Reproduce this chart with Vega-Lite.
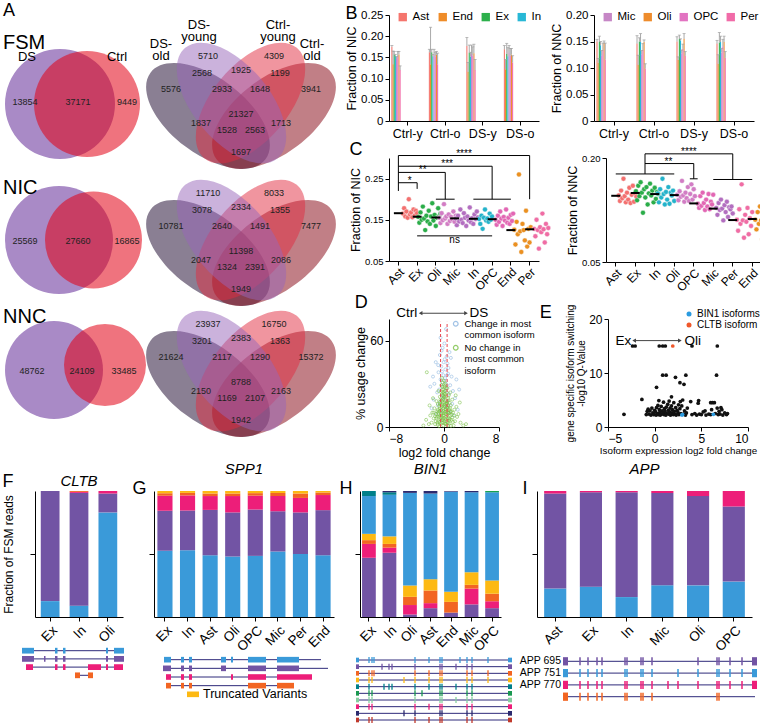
{
"$schema": "https://vega.github.io/schema/vega-lite/v6.json",
"background": "white",
"padding": {"left": 2, "top": 2, "right": 0, "bottom": 0},
"columns": 1,
"spacing": 3,
"config": {
  "view": {"stroke": null},
  "font": "Liberation Sans",
  "axis": {"grid": false, "domainColor": "#000", "tickColor": "#000", "labelColor": "#000", "titleColor": "#000", "titleFontWeight": "normal", "labelOverlap": false},
  "legend": {"labelColor": "#000"},
  "title": {"color": "#000", "fontWeight": "normal"},
  "text": {"color": "#000"}
},
"resolve": {"scale": {"color": "independent"}, "legend": {"color": "independent"}},
"datasets": {
"v2": [
  {"type": "FSM", "set": "DS", "x": 60, "y": 103}, {"type": "FSM", "set": "Ctrl", "x": 87, "y": 103},
  {"type": "NIC", "set": "DS", "x": 59, "y": 71}, {"type": "NIC", "set": "Ctrl", "x": 93.5, "y": 71},
  {"type": "NNC", "set": "DS", "x": 54, "y": 64}, {"type": "NNC", "set": "Ctrl", "x": 105, "y": 59}
],
"v2t": [
  {"type": "FSM", "k": "p", "x": 3, "y": 15, "t": "A"},
  {"type": "FSM", "k": "h", "x": 3, "y": 48, "t": "FSM"},
  {"type": "FSM", "k": "s", "x": 27, "y": 60, "t": "DS"},
  {"type": "FSM", "k": "s", "x": 117, "y": 60, "t": "Ctrl"},
  {"type": "FSM", "k": "n", "x": 25, "y": 101, "t": "13854"},
  {"type": "FSM", "k": "n", "x": 78, "y": 101, "t": "37171"},
  {"type": "FSM", "k": "n", "x": 127, "y": 101, "t": "9449"},
  {"type": "NIC", "k": "h", "x": 3, "y": 25, "t": "NIC"},
  {"type": "NIC", "k": "n", "x": 25, "y": 72, "t": "25569"},
  {"type": "NIC", "k": "n", "x": 78, "y": 72, "t": "27660"},
  {"type": "NIC", "k": "n", "x": 127, "y": 72, "t": "16865"},
  {"type": "NNC", "k": "h", "x": 3, "y": 17, "t": "NNC"},
  {"type": "NNC", "k": "n", "x": 32, "y": 65, "t": "48762"},
  {"type": "NNC", "k": "n", "x": 82, "y": 65, "t": "24109"},
  {"type": "NNC", "k": "n", "x": 124, "y": 65, "t": "33485"}
],
"v4": [
  {"type": "FSM", "set": "DS-old", "x": 64, "y": 115}, {"type": "FSM", "set": "DS-young", "x": 87.5, "y": 102},
  {"type": "FSM", "set": "Ctrl-young", "x": 106.5, "y": 102}, {"type": "FSM", "set": "Ctrl-old", "x": 130, "y": 115},
  {"type": "NIC", "set": "DS-old", "x": 64, "y": 84}, {"type": "NIC", "set": "DS-young", "x": 87.5, "y": 71},
  {"type": "NIC", "set": "Ctrl-young", "x": 106.5, "y": 71}, {"type": "NIC", "set": "Ctrl-old", "x": 130, "y": 84},
  {"type": "NNC", "set": "DS-old", "x": 64, "y": 78}, {"type": "NNC", "set": "DS-young", "x": 87.5, "y": 65},
  {"type": "NNC", "set": "Ctrl-young", "x": 106.5, "y": 65}, {"type": "NNC", "set": "Ctrl-old", "x": 130, "y": 78}
],
"v4n": [
  {"type": "FSM", "x": 64, "y": 55, "n": "5710"}, {"type": "FSM", "x": 130, "y": 55, "n": "4309"},
  {"type": "FSM", "x": 58, "y": 72, "n": "2568"}, {"type": "FSM", "x": 97, "y": 69, "n": "1925"},
  {"type": "FSM", "x": 136, "y": 72, "n": "1199"}, {"type": "FSM", "x": 27, "y": 88, "n": "5576"},
  {"type": "FSM", "x": 78, "y": 88, "n": "2933"}, {"type": "FSM", "x": 116, "y": 88, "n": "1648"},
  {"type": "FSM", "x": 167, "y": 88, "n": "3941"}, {"type": "FSM", "x": 97, "y": 113, "n": "21327"},
  {"type": "FSM", "x": 57, "y": 122, "n": "1837"}, {"type": "FSM", "x": 137, "y": 122, "n": "1713"},
  {"type": "FSM", "x": 83, "y": 129, "n": "1528"}, {"type": "FSM", "x": 111, "y": 129, "n": "2563"},
  {"type": "FSM", "x": 97, "y": 151, "n": "1697"},
  {"type": "NIC", "x": 64, "y": 24, "n": "11710"}, {"type": "NIC", "x": 130, "y": 24, "n": "8033"},
  {"type": "NIC", "x": 58, "y": 41, "n": "3078"}, {"type": "NIC", "x": 97, "y": 38, "n": "2334"},
  {"type": "NIC", "x": 136, "y": 41, "n": "1355"}, {"type": "NIC", "x": 27, "y": 57, "n": "10781"},
  {"type": "NIC", "x": 78, "y": 57, "n": "2640"}, {"type": "NIC", "x": 116, "y": 57, "n": "1491"},
  {"type": "NIC", "x": 167, "y": 57, "n": "7477"}, {"type": "NIC", "x": 97, "y": 82, "n": "11398"},
  {"type": "NIC", "x": 57, "y": 91, "n": "2047"}, {"type": "NIC", "x": 137, "y": 91, "n": "2086"},
  {"type": "NIC", "x": 83, "y": 98, "n": "1324"}, {"type": "NIC", "x": 111, "y": 98, "n": "2391"},
  {"type": "NIC", "x": 97, "y": 120, "n": "1949"},
  {"type": "NNC", "x": 64, "y": 18, "n": "23937"}, {"type": "NNC", "x": 130, "y": 18, "n": "16750"},
  {"type": "NNC", "x": 58, "y": 35, "n": "3201"}, {"type": "NNC", "x": 97, "y": 32, "n": "2383"},
  {"type": "NNC", "x": 136, "y": 35, "n": "1363"}, {"type": "NNC", "x": 27, "y": 51, "n": "21624"},
  {"type": "NNC", "x": 78, "y": 51, "n": "2117"}, {"type": "NNC", "x": 116, "y": 51, "n": "1290"},
  {"type": "NNC", "x": 167, "y": 51, "n": "15372"}, {"type": "NNC", "x": 97, "y": 76, "n": "8788"},
  {"type": "NNC", "x": 57, "y": 85, "n": "2150"}, {"type": "NNC", "x": 137, "y": 85, "n": "2163"},
  {"type": "NNC", "x": 83, "y": 92, "n": "1169"}, {"type": "NNC", "x": 111, "y": 92, "n": "2107"},
  {"type": "NNC", "x": 97, "y": 114, "n": "1942"}
],
"v4l": [
  {"x": 17, "y": 37, "t": "DS-|old"}, {"x": 55, "y": 18, "t": "DS-|young"},
  {"x": 134, "y": 18, "t": "Ctrl-|young"}, {"x": 168, "y": 37, "t": "Ctrl-|old"}
],
"bnic": [
  {"g": "Ctrl-y", "c": "Ast", "v": 0.175, "e": 0.178}, {"g": "Ctrl-y", "c": "End", "v": 0.134, "e": 0.165},
  {"g": "Ctrl-y", "c": "Ex", "v": 0.157, "e": 0.164}, {"g": "Ctrl-y", "c": "In", "v": 0.154, "e": 0.157},
  {"g": "Ctrl-y", "c": "Mic", "v": 0.146, "e": 0.152}, {"g": "Ctrl-y", "c": "Oli", "v": 0.157, "e": 0.164},
  {"g": "Ctrl-y", "c": "OPC", "v": 0.152, "e": 0.164}, {"g": "Ctrl-y", "c": "Per", "v": 0.12, "e": 0.13},
  {"g": "Ctrl-o", "c": "Ast", "v": 0.162, "e": 0.169}, {"g": "Ctrl-o", "c": "End", "v": 0.134, "e": 0.221},
  {"g": "Ctrl-o", "c": "Ex", "v": 0.162, "e": 0.169}, {"g": "Ctrl-o", "c": "In", "v": 0.153, "e": 0.157},
  {"g": "Ctrl-o", "c": "Mic", "v": 0.157, "e": 0.169}, {"g": "Ctrl-o", "c": "Oli", "v": 0.156, "e": 0.164},
  {"g": "Ctrl-o", "c": "OPC", "v": 0.152, "e": 0.162}, {"g": "Ctrl-o", "c": "Per", "v": 0.134, "e": 0.16},
  {"g": "DS-y", "c": "Ast", "v": 0.177, "e": 0.197}, {"g": "DS-y", "c": "End", "v": 0.116, "e": 0.138},
  {"g": "DS-y", "c": "Ex", "v": 0.161, "e": 0.179}, {"g": "DS-y", "c": "In", "v": 0.152, "e": 0.162},
  {"g": "DS-y", "c": "Mic", "v": 0.158, "e": 0.179}, {"g": "DS-y", "c": "Oli", "v": 0.16, "e": 0.181},
  {"g": "DS-y", "c": "OPC", "v": 0.154, "e": 0.175}, {"g": "DS-y", "c": "Per", "v": 0.12, "e": 0.145},
  {"g": "DS-o", "c": "Ast", "v": 0.169, "e": 0.178}, {"g": "DS-o", "c": "End", "v": 0.122, "e": 0.145},
  {"g": "DS-o", "c": "Ex", "v": 0.158, "e": 0.183}, {"g": "DS-o", "c": "In", "v": 0.153, "e": 0.173},
  {"g": "DS-o", "c": "Mic", "v": 0.162, "e": 0.178}, {"g": "DS-o", "c": "Oli", "v": 0.157, "e": 0.171},
  {"g": "DS-o", "c": "OPC", "v": 0.154, "e": 0.171}, {"g": "DS-o", "c": "Per", "v": 0.138, "e": 0.154}
],
"bnnc": [
  {"g": "Ctrl-y", "c": "Ast", "v": 0.15, "e": 0.154}, {"g": "Ctrl-y", "c": "End", "v": 0.11, "e": 0.118},
  {"g": "Ctrl-y", "c": "Ex", "v": 0.149, "e": 0.16}, {"g": "Ctrl-y", "c": "In", "v": 0.143, "e": 0.15},
  {"g": "Ctrl-y", "c": "Mic", "v": 0.123, "e": 0.133}, {"g": "Ctrl-y", "c": "Oli", "v": 0.147, "e": 0.151},
  {"g": "Ctrl-y", "c": "OPC", "v": 0.134, "e": 0.147}, {"g": "Ctrl-y", "c": "Per", "v": 0.116, "e": 0.147},
  {"g": "Ctrl-o", "c": "Ast", "v": 0.146, "e": 0.161}, {"g": "Ctrl-o", "c": "End", "v": 0.106, "e": 0.124},
  {"g": "Ctrl-o", "c": "Ex", "v": 0.15, "e": 0.157}, {"g": "Ctrl-o", "c": "In", "v": 0.149, "e": 0.165},
  {"g": "Ctrl-o", "c": "Mic", "v": 0.126, "e": 0.133}, {"g": "Ctrl-o", "c": "Oli", "v": 0.149, "e": 0.153},
  {"g": "Ctrl-o", "c": "OPC", "v": 0.134, "e": 0.146}, {"g": "Ctrl-o", "c": "Per", "v": 0.099, "e": 0.108},
  {"g": "DS-y", "c": "Ast", "v": 0.15, "e": 0.159}, {"g": "DS-y", "c": "End", "v": 0.115, "e": 0.121},
  {"g": "DS-y", "c": "Ex", "v": 0.155, "e": 0.162}, {"g": "DS-y", "c": "In", "v": 0.152, "e": 0.155},
  {"g": "DS-y", "c": "Mic", "v": 0.128, "e": 0.134}, {"g": "DS-y", "c": "Oli", "v": 0.155, "e": 0.165},
  {"g": "DS-y", "c": "OPC", "v": 0.136, "e": 0.145}, {"g": "DS-y", "c": "Per", "v": 0.123, "e": 0.131},
  {"g": "DS-o", "c": "Ast", "v": 0.146, "e": 0.152}, {"g": "DS-o", "c": "End", "v": 0.108, "e": 0.125},
  {"g": "DS-o", "c": "Ex", "v": 0.148, "e": 0.167}, {"g": "DS-o", "c": "In", "v": 0.149, "e": 0.16},
  {"g": "DS-o", "c": "Mic", "v": 0.129, "e": 0.137}, {"g": "DS-o", "c": "Oli", "v": 0.149, "e": 0.16},
  {"g": "DS-o", "c": "OPC", "v": 0.141, "e": 0.154}, {"g": "DS-o", "c": "Per", "v": 0.119, "e": 0.131}
],
"cnic": [
  {"c": "Ast", "r": 4, "v": 0.165}, {"c": "Ast", "r": 5, "v": 0.178}, {"c": "Ast", "r": 6, "v": 0.158}, {"c": "Ast", "r": 7, "v": 0.17}, {"c": "Ast", "r": 8, "v": 0.155}, {"c": "Ast", "r": 9, "v": 0.2}, {"c": "Ast", "r": 10, "v": 0.163}, {"c": "Ast", "r": 11, "v": 0.168}, {"c": "Ast", "r": 12, "v": 0.156}, {"c": "Ast", "r": 13, "v": 0.175}, {"c": "Ast", "r": 14, "v": 0.16}, {"c": "Ast", "r": 15, "v": 0.172}, {"c": "Ast", "r": 16, "v": 0.166},
  {"c": "Ex", "r": 1, "v": 0.157}, {"c": "Ex", "r": 2, "v": 0.143}, {"c": "Ex", "r": 3, "v": 0.168}, {"c": "Ex", "r": 4, "v": 0.15}, {"c": "Ex", "r": 5, "v": 0.182}, {"c": "Ex", "r": 6, "v": 0.153}, {"c": "Ex", "r": 7, "v": 0.125}, {"c": "Ex", "r": 8, "v": 0.16}, {"c": "Ex", "r": 9, "v": 0.146}, {"c": "Ex", "r": 10, "v": 0.172}, {"c": "Ex", "r": 11, "v": 0.14}, {"c": "Ex", "r": 12, "v": 0.158}, {"c": "Ex", "r": 13, "v": 0.19}, {"c": "Ex", "r": 14, "v": 0.148}, {"c": "Ex", "r": 15, "v": 0.162}, {"c": "Ex", "r": 16, "v": 0.135}, {"c": "Ex", "r": 17, "v": 0.155}, {"c": "Ex", "r": 18, "v": 0.178}, {"c": "Ex", "r": 19, "v": 0.159}, {"c": "Ex", "r": 20, "v": 0.165},
  {"c": "Oli", "r": 3, "v": 0.155}, {"c": "Oli", "r": 4, "v": 0.142}, {"c": "Oli", "r": 5, "v": 0.166}, {"c": "Oli", "r": 6, "v": 0.149}, {"c": "Oli", "r": 7, "v": 0.188}, {"c": "Oli", "r": 8, "v": 0.153}, {"c": "Oli", "r": 9, "v": 0.158}, {"c": "Oli", "r": 10, "v": 0.14}, {"c": "Oli", "r": 11, "v": 0.163}, {"c": "Oli", "r": 12, "v": 0.147}, {"c": "Oli", "r": 13, "v": 0.157}, {"c": "Oli", "r": 14, "v": 0.151}, {"c": "Oli", "r": 15, "v": 0.17}, {"c": "Oli", "r": 16, "v": 0.145}, {"c": "Oli", "r": 17, "v": 0.16}, {"c": "Oli", "r": 18, "v": 0.156},
  {"c": "Mic", "r": 1, "v": 0.153}, {"c": "Mic", "r": 2, "v": 0.137}, {"c": "Mic", "r": 3, "v": 0.16}, {"c": "Mic", "r": 4, "v": 0.146}, {"c": "Mic", "r": 5, "v": 0.175}, {"c": "Mic", "r": 6, "v": 0.15}, {"c": "Mic", "r": 7, "v": 0.142}, {"c": "Mic", "r": 8, "v": 0.166}, {"c": "Mic", "r": 9, "v": 0.155}, {"c": "Mic", "r": 10, "v": 0.135}, {"c": "Mic", "r": 11, "v": 0.158}, {"c": "Mic", "r": 12, "v": 0.148}, {"c": "Mic", "r": 13, "v": 0.18}, {"c": "Mic", "r": 14, "v": 0.144}, {"c": "Mic", "r": 15, "v": 0.154}, {"c": "Mic", "r": 16, "v": 0.14}, {"c": "Mic", "r": 17, "v": 0.163}, {"c": "Mic", "r": 18, "v": 0.152}, {"c": "Mic", "r": 19, "v": 0.17}, {"c": "Mic", "r": 20, "v": 0.156},
  {"c": "In", "r": 5, "v": 0.152}, {"c": "In", "r": 6, "v": 0.14}, {"c": "In", "r": 7, "v": 0.16}, {"c": "In", "r": 8, "v": 0.128}, {"c": "In", "r": 9, "v": 0.155}, {"c": "In", "r": 10, "v": 0.175}, {"c": "In", "r": 11, "v": 0.148}, {"c": "In", "r": 12, "v": 0.153}, {"c": "In", "r": 13, "v": 0.145}, {"c": "In", "r": 14, "v": 0.165}, {"c": "In", "r": 15, "v": 0.15}, {"c": "In", "r": 16, "v": 0.158},
  {"c": "OPC", "r": 3, "v": 0.15}, {"c": "OPC", "r": 4, "v": 0.138}, {"c": "OPC", "r": 5, "v": 0.16}, {"c": "OPC", "r": 6, "v": 0.145}, {"c": "OPC", "r": 7, "v": 0.17}, {"c": "OPC", "r": 8, "v": 0.153}, {"c": "OPC", "r": 9, "v": 0.135}, {"c": "OPC", "r": 10, "v": 0.157}, {"c": "OPC", "r": 11, "v": 0.148}, {"c": "OPC", "r": 12, "v": 0.175}, {"c": "OPC", "r": 13, "v": 0.143}, {"c": "OPC", "r": 14, "v": 0.155}, {"c": "OPC", "r": 15, "v": 0.14}, {"c": "OPC", "r": 16, "v": 0.162}, {"c": "OPC", "r": 17, "v": 0.147}, {"c": "OPC", "r": 18, "v": 0.165},
  {"c": "End", "r": 3, "v": 0.126}, {"c": "End", "r": 4, "v": 0.09}, {"c": "End", "r": 5, "v": 0.145}, {"c": "End", "r": 6, "v": 0.115}, {"c": "End", "r": 7, "v": 0.26}, {"c": "End", "r": 8, "v": 0.122}, {"c": "End", "r": 9, "v": 0.072}, {"c": "End", "r": 10, "v": 0.14}, {"c": "End", "r": 11, "v": 0.125}, {"c": "End", "r": 12, "v": 0.1}, {"c": "End", "r": 13, "v": 0.172}, {"c": "End", "r": 14, "v": 0.085}, {"c": "End", "r": 15, "v": 0.128}, {"c": "End", "r": 16, "v": 0.095}, {"c": "End", "r": 17, "v": 0.132},
  {"c": "Per", "r": 4, "v": 0.128}, {"c": "Per", "r": 5, "v": 0.11}, {"c": "Per", "r": 6, "v": 0.15}, {"c": "Per", "r": 7, "v": 0.125}, {"c": "Per", "r": 8, "v": 0.08}, {"c": "Per", "r": 9, "v": 0.132}, {"c": "Per", "r": 10, "v": 0.12}, {"c": "Per", "r": 11, "v": 0.165}, {"c": "Per", "r": 12, "v": 0.127}, {"c": "Per", "r": 13, "v": 0.095}, {"c": "Per", "r": 14, "v": 0.14}, {"c": "Per", "r": 15, "v": 0.115}, {"c": "Per", "r": 16, "v": 0.13}
],
"cnnc": [
  {"c": "Ast", "r": 3, "v": 0.146}, {"c": "Ast", "r": 4, "v": 0.138}, {"c": "Ast", "r": 5, "v": 0.153}, {"c": "Ast", "r": 6, "v": 0.142}, {"c": "Ast", "r": 7, "v": 0.17}, {"c": "Ast", "r": 8, "v": 0.145}, {"c": "Ast", "r": 9, "v": 0.136}, {"c": "Ast", "r": 10, "v": 0.15}, {"c": "Ast", "r": 11, "v": 0.14}, {"c": "Ast", "r": 12, "v": 0.157}, {"c": "Ast", "r": 13, "v": 0.135}, {"c": "Ast", "r": 14, "v": 0.147}, {"c": "Ast", "r": 15, "v": 0.16}, {"c": "Ast", "r": 16, "v": 0.137}, {"c": "Ast", "r": 17, "v": 0.148}, {"c": "Ast", "r": 18, "v": 0.144},
  {"c": "Ex", "r": 1, "v": 0.152}, {"c": "Ex", "r": 2, "v": 0.139}, {"c": "Ex", "r": 3, "v": 0.16}, {"c": "Ex", "r": 4, "v": 0.145}, {"c": "Ex", "r": 5, "v": 0.165}, {"c": "Ex", "r": 6, "v": 0.15}, {"c": "Ex", "r": 7, "v": 0.121}, {"c": "Ex", "r": 8, "v": 0.155}, {"c": "Ex", "r": 9, "v": 0.143}, {"c": "Ex", "r": 10, "v": 0.158}, {"c": "Ex", "r": 11, "v": 0.133}, {"c": "Ex", "r": 12, "v": 0.149}, {"c": "Ex", "r": 13, "v": 0.163}, {"c": "Ex", "r": 14, "v": 0.146}, {"c": "Ex", "r": 15, "v": 0.153}, {"c": "Ex", "r": 16, "v": 0.136}, {"c": "Ex", "r": 17, "v": 0.157}, {"c": "Ex", "r": 18, "v": 0.141}, {"c": "Ex", "r": 19, "v": 0.151}, {"c": "Ex", "r": 20, "v": 0.148},
  {"c": "In", "r": 3, "v": 0.149}, {"c": "In", "r": 4, "v": 0.136}, {"c": "In", "r": 5, "v": 0.155}, {"c": "In", "r": 6, "v": 0.143}, {"c": "In", "r": 7, "v": 0.17}, {"c": "In", "r": 8, "v": 0.148}, {"c": "In", "r": 9, "v": 0.133}, {"c": "In", "r": 10, "v": 0.151}, {"c": "In", "r": 11, "v": 0.14}, {"c": "In", "r": 12, "v": 0.158}, {"c": "In", "r": 13, "v": 0.134}, {"c": "In", "r": 14, "v": 0.15}, {"c": "In", "r": 15, "v": 0.146}, {"c": "In", "r": 16, "v": 0.153}, {"c": "In", "r": 17, "v": 0.138},
  {"c": "Oli", "r": 3, "v": 0.147}, {"c": "Oli", "r": 4, "v": 0.139}, {"c": "Oli", "r": 5, "v": 0.152}, {"c": "Oli", "r": 6, "v": 0.144}, {"c": "Oli", "r": 7, "v": 0.167}, {"c": "Oli", "r": 8, "v": 0.146}, {"c": "Oli", "r": 9, "v": 0.137}, {"c": "Oli", "r": 10, "v": 0.15}, {"c": "Oli", "r": 11, "v": 0.142}, {"c": "Oli", "r": 12, "v": 0.158}, {"c": "Oli", "r": 13, "v": 0.138}, {"c": "Oli", "r": 14, "v": 0.148}, {"c": "Oli", "r": 15, "v": 0.162}, {"c": "Oli", "r": 16, "v": 0.14}, {"c": "Oli", "r": 17, "v": 0.155}, {"c": "Oli", "r": 18, "v": 0.145},
  {"c": "OPC", "r": 4, "v": 0.134}, {"c": "OPC", "r": 5, "v": 0.128}, {"c": "OPC", "r": 6, "v": 0.145}, {"c": "OPC", "r": 7, "v": 0.131}, {"c": "OPC", "r": 8, "v": 0.15}, {"c": "OPC", "r": 9, "v": 0.135}, {"c": "OPC", "r": 10, "v": 0.125}, {"c": "OPC", "r": 11, "v": 0.14}, {"c": "OPC", "r": 12, "v": 0.13}, {"c": "OPC", "r": 13, "v": 0.148}, {"c": "OPC", "r": 14, "v": 0.126}, {"c": "OPC", "r": 15, "v": 0.137}, {"c": "OPC", "r": 16, "v": 0.133}, {"c": "OPC", "r": 17, "v": 0.147},
  {"c": "Mic", "r": 3, "v": 0.128}, {"c": "Mic", "r": 4, "v": 0.118}, {"c": "Mic", "r": 5, "v": 0.135}, {"c": "Mic", "r": 6, "v": 0.125}, {"c": "Mic", "r": 7, "v": 0.14}, {"c": "Mic", "r": 8, "v": 0.127}, {"c": "Mic", "r": 9, "v": 0.11}, {"c": "Mic", "r": 10, "v": 0.132}, {"c": "Mic", "r": 11, "v": 0.122}, {"c": "Mic", "r": 12, "v": 0.137}, {"c": "Mic", "r": 13, "v": 0.115}, {"c": "Mic", "r": 14, "v": 0.129}, {"c": "Mic", "r": 15, "v": 0.126}, {"c": "Mic", "r": 16, "v": 0.13}, {"c": "Mic", "r": 17, "v": 0.12},
  {"c": "Per", "r": 4, "v": 0.111}, {"c": "Per", "r": 5, "v": 0.095}, {"c": "Per", "r": 6, "v": 0.126}, {"c": "Per", "r": 7, "v": 0.105}, {"c": "Per", "r": 8, "v": 0.162}, {"c": "Per", "r": 9, "v": 0.11}, {"c": "Per", "r": 10, "v": 0.085}, {"c": "Per", "r": 11, "v": 0.118}, {"c": "Per", "r": 12, "v": 0.108}, {"c": "Per", "r": 13, "v": 0.128}, {"c": "Per", "r": 14, "v": 0.09}, {"c": "Per", "r": 15, "v": 0.113}, {"c": "Per", "r": 16, "v": 0.102}, {"c": "Per", "r": 17, "v": 0.122},
  {"c": "End", "r": 3, "v": 0.111}, {"c": "End", "r": 4, "v": 0.097}, {"c": "End", "r": 5, "v": 0.122}, {"c": "End", "r": 6, "v": 0.105}, {"c": "End", "r": 7, "v": 0.13}, {"c": "End", "r": 8, "v": 0.11}, {"c": "End", "r": 9, "v": 0.083}, {"c": "End", "r": 10, "v": 0.117}, {"c": "End", "r": 11, "v": 0.108}, {"c": "End", "r": 12, "v": 0.127}, {"c": "End", "r": 13, "v": 0.09}, {"c": "End", "r": 14, "v": 0.113}, {"c": "End", "r": 15, "v": 0.102}, {"c": "End", "r": 16, "v": 0.125}, {"c": "End", "r": 17, "v": 0.115}, {"c": "End", "r": 18, "v": 0.12}
],
"brnic": [
  {"id": "b1", "x": 0, "y": 0.22, "o": 1}, {"id": "b1", "x": 0, "y": 0.306, "o": 2}, {"id": "b1", "x": 7, "y": 0.306, "o": 3}, {"id": "b1", "x": 7, "y": 0.2, "o": 4},
  {"id": "b2", "x": 0, "y": 0.28, "o": 1}, {"id": "b2", "x": 5, "y": 0.28, "o": 2}, {"id": "b2", "x": 5, "y": 0.2, "o": 3},
  {"id": "g2", "x": 4, "y": 0.2, "o": 1}, {"id": "g2", "x": 6, "y": 0.2, "o": 2},
  {"id": "b3", "x": 0, "y": 0.265, "o": 1}, {"id": "b3", "x": 2.5, "y": 0.265, "o": 2}, {"id": "b3", "x": 2.5, "y": 0.2, "o": 3},
  {"id": "g3", "x": 2, "y": 0.2, "o": 1}, {"id": "g3", "x": 3, "y": 0.2, "o": 2},
  {"id": "b4", "x": 0, "y": 0.24, "o": 1}, {"id": "b4", "x": 1, "y": 0.24, "o": 2}, {"id": "b4", "x": 1, "y": 0.225, "o": 3},
  {"id": "ns", "x": 1, "y": 0.111, "o": 1}, {"id": "ns", "x": 5, "y": 0.111, "o": 2}
],
"brtnic": [
  {"x": 3.5, "y": 0.306, "t": "****"}, {"x": 2.6, "y": 0.28, "t": "***"}, {"x": 1.3, "y": 0.265, "t": "**"},
  {"x": 0.6, "y": 0.24, "t": "*"}, {"x": 3, "y": 0.097, "t": "ns"}
],
"brnnc": [
  {"id": "b1", "x": 1.5, "y": 0.177, "o": 1}, {"id": "b1", "x": 1.5, "y": 0.206, "o": 2}, {"id": "b1", "x": 6, "y": 0.206, "o": 3}, {"id": "b1", "x": 6, "y": 0.169, "o": 4},
  {"id": "g1", "x": 0, "y": 0.177, "o": 1}, {"id": "g1", "x": 3, "y": 0.177, "o": 2},
  {"id": "g2", "x": 5, "y": 0.169, "o": 1}, {"id": "g2", "x": 7, "y": 0.169, "o": 2},
  {"id": "b2", "x": 1.5, "y": 0.192, "o": 1}, {"id": "b2", "x": 4, "y": 0.192, "o": 2}, {"id": "b2", "x": 4, "y": 0.17, "o": 3},
  {"id": "cap", "x": 3.8, "y": 0.17, "o": 1}, {"id": "cap", "x": 4.2, "y": 0.17, "o": 2}
],
"brtnnc": [{"x": 3.75, "y": 0.206, "t": "****"}, {"x": 2.7, "y": 0.192, "t": "**"}],
"dref": [{"x": -0.5}, {"x": 0.45}],
"dvol": [
  {"x": 0.3, "y": 68, "k": "chg"}, {"x": -0.2, "y": 55, "k": "chg"}, {"x": 0.8, "y": 52, "k": "chg"}, {"x": -0.6, "y": 50, "k": "chg"}, {"x": 0.1, "y": 47, "k": "chg"}, {"x": -1.2, "y": 45, "k": "chg"}, {"x": 0.5, "y": 44, "k": "chg"}, {"x": -0.4, "y": 42, "k": "chg"}, {"x": 0.2, "y": 40, "k": "chg"}, {"x": -0.8, "y": 38, "k": "chg"}, {"x": 0.6, "y": 37, "k": "chg"}, {"x": -0.1, "y": 36, "k": "chg"}, {"x": 1.1, "y": 35, "k": "chg"}, {"x": -0.5, "y": 33, "k": "chg"}, {"x": 0.3, "y": 32, "k": "chg"}, {"x": -1.4, "y": 30, "k": "chg"}, {"x": 0.9, "y": 29, "k": "chg"}, {"x": -0.3, "y": 28, "k": "chg"}, {"x": 0.4, "y": 27, "k": "chg"}, {"x": -0.7, "y": 26, "k": "chg"}, {"x": 1.3, "y": 25, "k": "chg"}, {"x": -1, "y": 24, "k": "chg"}, {"x": 0.7, "y": 23, "k": "chg"}, {"x": -0.2, "y": 22, "k": "chg"}, {"x": 0, "y": 21, "k": "chg"}, {"x": 1.6, "y": 20, "k": "chg"}, {"x": -1.5, "y": 19, "k": "chg"}, {"x": 0.5, "y": 18, "k": "chg"}, {"x": -0.6, "y": 17, "k": "chg"}, {"x": 1.2, "y": 16, "k": "chg"}, {"x": -0.9, "y": 15, "k": "chg"}, {"x": 0.2, "y": 14, "k": "chg"}, {"x": -1.8, "y": 13, "k": "chg"}, {"x": 2, "y": 12, "k": "chg"}, {"x": -0.4, "y": 11, "k": "chg"}, {"x": 0.8, "y": 10, "k": "chg"}, {"x": -1.1, "y": 9, "k": "chg"}, {"x": 1.4, "y": 8, "k": "chg"}, {"x": -0.3, "y": 38.5, "k": "chg"}, {"x": 0.45, "y": 36, "k": "chg"}, {"x": 0.15, "y": 34, "k": "chg"}, {"x": -0.25, "y": 31, "k": "chg"}, {"x": 0.35, "y": 29.5, "k": "chg"}, {"x": 0.65, "y": 41, "k": "chg"}, {"x": -0.85, "y": 43, "k": "chg"}, {"x": 1, "y": 48, "k": "chg"}, {"x": -1.6, "y": 35, "k": "chg"}, {"x": 1.8, "y": 33, "k": "chg"}, {"x": -2, "y": 28, "k": "chg"}, {"x": 2.2, "y": 26, "k": "chg"}, {"x": 0.05, "y": 58, "k": "chg"}, {"x": -0.5, "y": 62, "k": "chg"}, {"x": 0.25, "y": 25, "k": "chg"}, {"x": -0.15, "y": 20, "k": "chg"}, {"x": 0.55, "y": 15, "k": "chg"}, {"x": -0.05, "y": 45, "k": "chg"}, {"x": 0.4, "y": 49, "k": "chg"}, {"x": -0.35, "y": 53, "k": "chg"},
  {"x": -0.1, "y": 1, "k": "no"}, {"x": 0.2, "y": 2, "k": "no"}, {"x": -0.3, "y": 3, "k": "no"}, {"x": 0.4, "y": 1.5, "k": "no"}, {"x": 0.1, "y": 4, "k": "no"}, {"x": -0.5, "y": 5, "k": "no"}, {"x": 0.6, "y": 3, "k": "no"}, {"x": -0.2, "y": 6, "k": "no"}, {"x": 0.3, "y": 7, "k": "no"}, {"x": 0, "y": 8, "k": "no"}, {"x": -0.4, "y": 9, "k": "no"}, {"x": 0.5, "y": 10, "k": "no"}, {"x": -0.1, "y": 11, "k": "no"}, {"x": 0.2, "y": 12, "k": "no"}, {"x": -0.6, "y": 13, "k": "no"}, {"x": 0.7, "y": 6, "k": "no"}, {"x": -0.8, "y": 4, "k": "no"}, {"x": 0.9, "y": 8, "k": "no"}, {"x": -0.3, "y": 14, "k": "no"}, {"x": 0.1, "y": 15, "k": "no"}, {"x": 0.4, "y": 16, "k": "no"}, {"x": -0.2, "y": 17, "k": "no"}, {"x": 0.3, "y": 18, "k": "no"}, {"x": -0.5, "y": 19, "k": "no"}, {"x": 0.6, "y": 20, "k": "no"}, {"x": 0, "y": 21, "k": "no"}, {"x": -0.1, "y": 22, "k": "no"}, {"x": 0.2, "y": 23, "k": "no"}, {"x": -0.4, "y": 24, "k": "no"}, {"x": 0.1, "y": 25, "k": "no"}, {"x": 0.5, "y": 14, "k": "no"}, {"x": -0.7, "y": 11, "k": "no"}, {"x": 0.8, "y": 12, "k": "no"}, {"x": -1, "y": 7, "k": "no"}, {"x": 1.1, "y": 5, "k": "no"}, {"x": -1.2, "y": 9, "k": "no"}, {"x": 1.3, "y": 10, "k": "no"}, {"x": -1.5, "y": 6, "k": "no"}, {"x": 1.6, "y": 4, "k": "no"}, {"x": -1.8, "y": 3, "k": "no"}, {"x": 1.9, "y": 7, "k": "no"}, {"x": -2.2, "y": 2, "k": "no"}, {"x": 2.4, "y": 3, "k": "no"}, {"x": -2.6, "y": 5, "k": "no"}, {"x": 2.8, "y": 1, "k": "no"}, {"x": -0.9, "y": 16, "k": "no"}, {"x": 1, "y": 15, "k": "no"}, {"x": -1.1, "y": 18, "k": "no"}, {"x": 1.2, "y": 19, "k": "no"}, {"x": -0.6, "y": 21, "k": "no"}, {"x": 0.7, "y": 22, "k": "no"}, {"x": -0.2, "y": 26, "k": "no"}, {"x": 0.3, "y": 27, "k": "no"}, {"x": -0.4, "y": 29, "k": "no"}, {"x": 0.2, "y": 30, "k": "no"}, {"x": 0, "y": 32, "k": "no"}, {"x": -0.3, "y": 34, "k": "no"}, {"x": -1.4, "y": 13, "k": "no"}, {"x": 1.5, "y": 12, "k": "no"}, {"x": -1.7, "y": 10, "k": "no"}, {"x": 1.8, "y": 14, "k": "no"}, {"x": -2, "y": 8, "k": "no"}, {"x": 2.1, "y": 9, "k": "no"}, {"x": -0.5, "y": 2, "k": "no"}, {"x": 0.6, "y": 1, "k": "no"}, {"x": -0.7, "y": 0.5, "k": "no"}, {"x": 0.8, "y": 2.5, "k": "no"}, {"x": -0.9, "y": 1.5, "k": "no"}, {"x": 1, "y": 0.8, "k": "no"}, {"x": -1.3, "y": 2, "k": "no"}, {"x": 1.4, "y": 1, "k": "no"}, {"x": -0.15, "y": 5, "k": "no"}, {"x": 0.25, "y": 5.5, "k": "no"}, {"x": -0.35, "y": 7.5, "k": "no"}, {"x": 0.45, "y": 8.5, "k": "no"}, {"x": -0.05, "y": 9.5, "k": "no"}, {"x": 0.15, "y": 10.5, "k": "no"}, {"x": -0.45, "y": 12, "k": "no"}, {"x": 0.55, "y": 13, "k": "no"}, {"x": -0.25, "y": 15, "k": "no"}, {"x": 0.35, "y": 16.5, "k": "no"}, {"x": -0.55, "y": 17.5, "k": "no"}, {"x": 0.65, "y": 18.5, "k": "no"}, {"x": -0.1, "y": 19.5, "k": "no"}, {"x": 0.05, "y": 20.5, "k": "no"}, {"x": -0.3, "y": 23, "k": "no"}, {"x": 0.4, "y": 24, "k": "no"}, {"x": -2.5, "y": 38, "k": "no"}, {"x": 1.7, "y": 22, "k": "no"}, {"x": -1.6, "y": 20, "k": "no"}, {"x": 2.3, "y": 17, "k": "no"}, {"x": -2.1, "y": 15, "k": "no"}, {"x": -3, "y": 1, "k": "no"}, {"x": 3.2, "y": 2, "k": "no"}, {"x": 0.9, "y": 24, "k": "no"}, {"x": -0.8, "y": 25, "k": "no"}, {"x": 0.1, "y": 28, "k": "no"}, {"x": -0.2, "y": 31, "k": "no"}, {"x": 0.5, "y": 27, "k": "no"},
  {"x": -0.05, "y": 3, "k": "no"}, {"x": 0.05, "y": 6, "k": "no"}, {"x": -0.15, "y": 8, "k": "no"}, {"x": 0.15, "y": 2.5, "k": "no"}, {"x": -0.25, "y": 10, "k": "no"}, {"x": 0.25, "y": 9, "k": "no"}, {"x": -0.35, "y": 4.5, "k": "no"}, {"x": 0.35, "y": 11, "k": "no"}, {"x": -0.45, "y": 6.5, "k": "no"}, {"x": 0.45, "y": 4, "k": "no"}, {"x": -0.55, "y": 8, "k": "no"}, {"x": 0.55, "y": 6, "k": "no"}, {"x": -0.65, "y": 3.5, "k": "no"}, {"x": 0.65, "y": 9.5, "k": "no"}, {"x": -0.75, "y": 7, "k": "no"}, {"x": 0.75, "y": 4.5, "k": "no"}, {"x": -0.85, "y": 10, "k": "no"}, {"x": 0.85, "y": 5.5, "k": "no"}, {"x": -0.95, "y": 3, "k": "no"}, {"x": 0.95, "y": 11, "k": "no"}, {"x": 0, "y": 14, "k": "no"}, {"x": 0.1, "y": 17, "k": "no"}, {"x": -0.1, "y": 13, "k": "no"}, {"x": 0.2, "y": 16, "k": "no"}, {"x": -0.2, "y": 19, "k": "no"}, {"x": 0.3, "y": 12.5, "k": "no"}, {"x": -0.3, "y": 18, "k": "no"}, {"x": 0.4, "y": 13.5, "k": "no"}, {"x": -0.4, "y": 15.5, "k": "no"}, {"x": 0.5, "y": 17.5, "k": "no"}, {"x": -0.5, "y": 11.5, "k": "no"}, {"x": 0.6, "y": 15, "k": "no"}, {"x": -0.6, "y": 16, "k": "no"}, {"x": 0.7, "y": 10, "k": "no"}, {"x": -0.7, "y": 14.5, "k": "no"}, {"x": 0.8, "y": 17, "k": "no"}, {"x": -0.8, "y": 9, "k": "no"}, {"x": 0.9, "y": 13, "k": "no"}, {"x": -0.9, "y": 12, "k": "no"}, {"x": 1, "y": 10.5, "k": "no"}, {"x": -1, "y": 11, "k": "no"}, {"x": 1.1, "y": 8.5, "k": "no"}, {"x": -1.1, "y": 6, "k": "no"}, {"x": 1.2, "y": 6.5, "k": "no"}, {"x": -1.2, "y": 4, "k": "no"}, {"x": 1.3, "y": 3.5, "k": "no"}, {"x": -1.3, "y": 7.5, "k": "no"}, {"x": 1.5, "y": 8, "k": "no"}, {"x": -1.5, "y": 10, "k": "no"}, {"x": 0.05, "y": 23, "k": "no"}, {"x": -0.05, "y": 26, "k": "no"}, {"x": 0.15, "y": 29, "k": "no"}, {"x": -0.15, "y": 24, "k": "no"}, {"x": 0.25, "y": 21, "k": "no"}, {"x": -0.25, "y": 28, "k": "no"}
],
"esc": [
  {"x": -2.37, "y": 15, "k": "other"}, {"x": -2.09, "y": 15, "k": "other"}, {"x": 0.49, "y": 15, "k": "other"}, {"x": 0.86, "y": 15, "k": "other"}, {"x": 1.14, "y": 15, "k": "other"}, {"x": 4, "y": 15, "k": "other"}, {"x": 6.71, "y": 15, "k": "other"},
  {"x": 0.86, "y": 9.6, "k": "other"}, {"x": 1.23, "y": 9.6, "k": "other"}, {"x": 3.34, "y": 9.6, "k": "other"}, {"x": 6.63, "y": 9.6, "k": "other"}, {"x": 2.23, "y": 9.2, "k": "other"}, {"x": 2.71, "y": 8.2, "k": "other"}, {"x": 3.14, "y": 7.9, "k": "other"}, {"x": 0.2, "y": 7.35, "k": "other"}, {"x": -1.37, "y": 5.1, "k": "other"}, {"x": 1.8, "y": 5.6, "k": "other"},
  {"x": 3.86, "y": 4.7, "k": "other"}, {"x": 4.71, "y": 4.9, "k": "other"}, {"x": 4.66, "y": 4.4, "k": "other"}, {"x": 6, "y": 4.5, "k": "other"}, {"x": 6.2, "y": 4.5, "k": "other"}, {"x": 6.4, "y": 4.5, "k": "other"}, {"x": 6.7, "y": 3.5, "k": "other"}, {"x": 7.1, "y": 3.6, "k": "other"}, {"x": 7.2, "y": 3.2, "k": "other"}, {"x": -3.29, "y": 2.35, "k": "other"},
  {"x": -0.6, "y": 2.4, "k": "other"}, {"x": -0.5, "y": 3, "k": "other"}, {"x": -0.4, "y": 2.2, "k": "other"}, {"x": -0.3, "y": 3.5, "k": "other"}, {"x": -0.2, "y": 2.6, "k": "other"}, {"x": -0.1, "y": 2.3, "k": "other"}, {"x": 0, "y": 3.1, "k": "other"}, {"x": 0.1, "y": 2.8, "k": "other"}, {"x": 0.15, "y": 2.2, "k": "other"}, {"x": 0.2, "y": 3.6, "k": "other"}, {"x": 0.3, "y": 2.5, "k": "other"}, {"x": 0.35, "y": 4, "k": "other"}, {"x": 0.4, "y": 2.3, "k": "other"}, {"x": 0.5, "y": 3.2, "k": "other"}, {"x": 0.55, "y": 2.7, "k": "other"}, {"x": 0.6, "y": 2.2, "k": "other"}, {"x": 0.7, "y": 3.8, "k": "other"}, {"x": 0.75, "y": 2.4, "k": "other"}, {"x": 0.8, "y": 3, "k": "other"}, {"x": 0.9, "y": 2.6, "k": "other"}, {"x": 0.95, "y": 4.6, "k": "other"}, {"x": 1, "y": 2.3, "k": "other"}, {"x": 1.05, "y": 3.4, "k": "other"}, {"x": 1.1, "y": 2.9, "k": "other"}, {"x": 1.2, "y": 2.2, "k": "other"}, {"x": 1.25, "y": 3.7, "k": "other"}, {"x": 1.3, "y": 2.5, "k": "other"}, {"x": 1.4, "y": 4.2, "k": "other"}, {"x": 1.45, "y": 3.1, "k": "other"}, {"x": 1.5, "y": 2.4, "k": "other"}, {"x": 1.6, "y": 2.8, "k": "other"}, {"x": 1.65, "y": 3.5, "k": "other"}, {"x": 1.7, "y": 2.2, "k": "other"}, {"x": 1.8, "y": 3.9, "k": "other"}, {"x": 1.85, "y": 2.6, "k": "other"}, {"x": 1.9, "y": 3.2, "k": "other"}, {"x": 2, "y": 2.3, "k": "other"}, {"x": 2.05, "y": 4.5, "k": "other"}, {"x": 2.1, "y": 2.9, "k": "other"}, {"x": 2.2, "y": 2.4, "k": "other"}, {"x": 2.25, "y": 3.6, "k": "other"}, {"x": 2.3, "y": 2.2, "k": "other"}, {"x": 2.4, "y": 3.1, "k": "other"}, {"x": 2.5, "y": 2.7, "k": "other"}, {"x": 2.55, "y": 4.1, "k": "other"}, {"x": 2.6, "y": 2.3, "k": "other"}, {"x": 2.7, "y": 3.4, "k": "other"}, {"x": 2.8, "y": 2.5, "k": "other"}, {"x": 2.9, "y": 3.9, "k": "other"}, {"x": 3.1, "y": 2.4, "k": "other"}, {"x": 3.2, "y": 3, "k": "other"}, {"x": 3.3, "y": 2.2, "k": "other"}, {"x": 3.4, "y": 2.6, "k": "other"}, {"x": 3.5, "y": 3.5, "k": "other"}, {"x": 0.45, "y": 4.9, "k": "other"}, {"x": 1.55, "y": 4.8, "k": "other"}, {"x": 2.75, "y": 4.7, "k": "other"}, {"x": 3, "y": 5, "k": "other"}, {"x": -0.8, "y": 2.9, "k": "other"}, {"x": -0.9, "y": 2.3, "k": "other"}, {"x": -0.7, "y": 3.3, "k": "other"},
  {"x": 4, "y": 2.3, "k": "other"}, {"x": 4.3, "y": 2.5, "k": "other"}, {"x": 4.5, "y": 2.2, "k": "other"}, {"x": 4.8, "y": 2.4, "k": "other"}, {"x": 5, "y": 2.3, "k": "other"}, {"x": 5.2, "y": 2.8, "k": "other"}, {"x": 5.5, "y": 2.2, "k": "other"}, {"x": 5.8, "y": 2.4, "k": "other"}, {"x": 6, "y": 2.3, "k": "other"}, {"x": 6.1, "y": 3.2, "k": "other"}, {"x": 6.5, "y": 2.5, "k": "other"}, {"x": 6.8, "y": 2.3, "k": "other"}, {"x": 7, "y": 2.4, "k": "other"}, {"x": 7.3, "y": 2.2, "k": "other"}, {"x": 7.5, "y": 2.6, "k": "other"}, {"x": 7.7, "y": 2.3, "k": "other"}, {"x": 7.8, "y": 2.5, "k": "other"}, {"x": 5.4, "y": 3, "k": "other"}, {"x": 6.9, "y": 2.9, "k": "other"},
  {"x": 2.91, "y": 2.24, "k": "BIN1"}, {"x": 3, "y": 2.3, "k": "BIN1"}, {"x": 6.29, "y": 2.35, "k": "BIN1"}, {"x": 1.94, "y": 15, "k": "CLTB"}
],
"fbar": [
  {"c": "Ex", "t": "t1", "v": 0.126}, {"c": "Ex", "t": "t2", "v": 0.874},
  {"c": "In", "t": "t1", "v": 0.09}, {"c": "In", "t": "t2", "v": 0.895}, {"c": "In", "t": "t3", "v": 0.008}, {"c": "In", "t": "t4", "v": 0.007},
  {"c": "Oli", "t": "t1", "v": 0.83}, {"c": "Oli", "t": "t2", "v": 0.15}, {"c": "Oli", "t": "t3", "v": 0.02}
],
"gbar": [
  {"c": "Ex", "t": "t1", "v": 0.525}, {"c": "Ex", "t": "t2", "v": 0.318}, {"c": "Ex", "t": "t3", "v": 0.12}, {"c": "Ex", "t": "t4", "v": 0.02}, {"c": "Ex", "t": "t5", "v": 0.017},
  {"c": "In", "t": "t1", "v": 0.53}, {"c": "In", "t": "t2", "v": 0.315}, {"c": "In", "t": "t3", "v": 0.12}, {"c": "In", "t": "t4", "v": 0.02}, {"c": "In", "t": "t5", "v": 0.015},
  {"c": "Ast", "t": "t1", "v": 0.49}, {"c": "Ast", "t": "t2", "v": 0.36}, {"c": "Ast", "t": "t3", "v": 0.11}, {"c": "Ast", "t": "t4", "v": 0.02}, {"c": "Ast", "t": "t5", "v": 0.02},
  {"c": "Oli", "t": "t1", "v": 0.48}, {"c": "Oli", "t": "t2", "v": 0.35}, {"c": "Oli", "t": "t3", "v": 0.13}, {"c": "Oli", "t": "t4", "v": 0.02}, {"c": "Oli", "t": "t5", "v": 0.02},
  {"c": "OPC", "t": "t1", "v": 0.485}, {"c": "OPC", "t": "t2", "v": 0.368}, {"c": "OPC", "t": "t3", "v": 0.11}, {"c": "OPC", "t": "t4", "v": 0.02}, {"c": "OPC", "t": "t5", "v": 0.017},
  {"c": "Mic", "t": "t1", "v": 0.52}, {"c": "Mic", "t": "t2", "v": 0.32}, {"c": "Mic", "t": "t3", "v": 0.12}, {"c": "Mic", "t": "t4", "v": 0.025}, {"c": "Mic", "t": "t5", "v": 0.015},
  {"c": "Per", "t": "t1", "v": 0.5}, {"c": "Per", "t": "t2", "v": 0.33}, {"c": "Per", "t": "t3", "v": 0.115}, {"c": "Per", "t": "t4", "v": 0.035}, {"c": "Per", "t": "t5", "v": 0.02},
  {"c": "End", "t": "t1", "v": 0.49}, {"c": "End", "t": "t2", "v": 0.358}, {"c": "End", "t": "t3", "v": 0.12}, {"c": "End", "t": "t4", "v": 0.02}, {"c": "End", "t": "t5", "v": 0.012}
],
"hbar": [
  {"c": "Ex", "t": "t1", "v": 0.47}, {"c": "Ex", "t": "t2", "v": 0.11}, {"c": "Ex", "t": "t3", "v": 0.03}, {"c": "Ex", "t": "t4", "v": 0.05}, {"c": "Ex", "t": "t5", "v": 0.3}, {"c": "Ex", "t": "t6", "v": 0.04},
  {"c": "In", "t": "t1", "v": 0.51}, {"c": "In", "t": "t2", "v": 0.04}, {"c": "In", "t": "t3", "v": 0.03}, {"c": "In", "t": "t4", "v": 0.06}, {"c": "In", "t": "t5", "v": 0.33}, {"c": "In", "t": "t6", "v": 0.02}, {"c": "In", "t": "t7", "v": 0.01},
  {"c": "Oli", "t": "t1", "v": 0.02}, {"c": "Oli", "t": "t2", "v": 0.075}, {"c": "Oli", "t": "t3", "v": 0.065}, {"c": "Oli", "t": "t4", "v": 0.09}, {"c": "Oli", "t": "t5", "v": 0.735}, {"c": "Oli", "t": "t7", "v": 0.015},
  {"c": "Ast", "t": "t1", "v": 0.07}, {"c": "Ast", "t": "t2", "v": 0.04}, {"c": "Ast", "t": "t3", "v": 0.1}, {"c": "Ast", "t": "t4", "v": 0.09}, {"c": "Ast", "t": "t5", "v": 0.68}, {"c": "Ast", "t": "t7", "v": 0.02},
  {"c": "End", "t": "t1", "v": 0.035}, {"c": "End", "t": "t3", "v": 0.085}, {"c": "End", "t": "t4", "v": 0.08}, {"c": "End", "t": "t5", "v": 0.795}, {"c": "End", "t": "t7", "v": 0.005},
  {"c": "Mic", "t": "t1", "v": 0.1}, {"c": "Mic", "t": "t2", "v": 0.125}, {"c": "Mic", "t": "t3", "v": 0.03}, {"c": "Mic", "t": "t4", "v": 0.1}, {"c": "Mic", "t": "t5", "v": 0.635}, {"c": "Mic", "t": "t7", "v": 0.01},
  {"c": "OPC", "t": "t1", "v": 0.07}, {"c": "OPC", "t": "t2", "v": 0.055}, {"c": "OPC", "t": "t3", "v": 0.06}, {"c": "OPC", "t": "t4", "v": 0.105}, {"c": "OPC", "t": "t5", "v": 0.7}, {"c": "OPC", "t": "t8", "v": 0.01}
],
"ibar": [
  {"c": "Ast", "t": "t1", "v": 0.226}, {"c": "Ast", "t": "t2", "v": 0.754}, {"c": "Ast", "t": "t3", "v": 0.02},
  {"c": "Ex", "t": "t1", "v": 0.241}, {"c": "Ex", "t": "t2", "v": 0.749}, {"c": "Ex", "t": "t3", "v": 0.01},
  {"c": "In", "t": "t1", "v": 0.158}, {"c": "In", "t": "t2", "v": 0.832}, {"c": "In", "t": "t3", "v": 0.01},
  {"c": "Mic", "t": "t1", "v": 0.251}, {"c": "Mic", "t": "t2", "v": 0.734}, {"c": "Mic", "t": "t3", "v": 0.015},
  {"c": "Oli", "t": "t1", "v": 0.251}, {"c": "Oli", "t": "t2", "v": 0.709}, {"c": "Oli", "t": "t3", "v": 0.04},
  {"c": "OPC", "t": "t1", "v": 0.281}, {"c": "OPC", "t": "t2", "v": 0.596}, {"c": "OPC", "t": "t3", "v": 0.123}
],
"fsp": [{"tx": "t1", "s": 24, "e": 126}, {"tx": "t2", "s": 24, "e": 126}, {"tx": "t3", "s": 28, "e": 125}, {"tx": "t4", "s": 77, "e": 95}],
"fex": [
  {"tx": "t1", "s": 24, "e": 36}, {"tx": "t1", "s": 57, "e": 59.5}, {"tx": "t1", "s": 65, "e": 67.5}, {"tx": "t1", "s": 108, "e": 110}, {"tx": "t1", "s": 116, "e": 126},
  {"tx": "t2", "s": 24, "e": 36}, {"tx": "t2", "s": 46, "e": 47.5}, {"tx": "t2", "s": 57, "e": 59.5}, {"tx": "t2", "s": 65, "e": 67.5}, {"tx": "t2", "s": 108, "e": 110}, {"tx": "t2", "s": 116, "e": 126},
  {"tx": "t3", "s": 28, "e": 35}, {"tx": "t3", "s": 57, "e": 59.5}, {"tx": "t3", "s": 65, "e": 67.5}, {"tx": "t3", "s": 90, "e": 103}, {"tx": "t3", "s": 108, "e": 110}, {"tx": "t3", "s": 116, "e": 125},
  {"tx": "t4", "s": 77, "e": 82}, {"tx": "t4", "s": 90, "e": 95}
],
"gsp": [{"tx": "t1", "s": 165, "e": 322}, {"tx": "t2", "s": 164, "e": 329}, {"tx": "t3", "s": 167, "e": 313}, {"tx": "t4", "s": 167, "e": 295}],
"gex": [
  {"tx": "t1", "s": 165, "e": 172}, {"tx": "t1", "s": 182, "e": 185}, {"tx": "t1", "s": 190, "e": 193}, {"tx": "t1", "s": 222, "e": 227}, {"tx": "t1", "s": 232, "e": 234}, {"tx": "t1", "s": 249, "e": 267}, {"tx": "t1", "s": 278, "e": 300},
  {"tx": "t2", "s": 164, "e": 172}, {"tx": "t2", "s": 182, "e": 185}, {"tx": "t2", "s": 190, "e": 193}, {"tx": "t2", "s": 222, "e": 227}, {"tx": "t2", "s": 249, "e": 267}, {"tx": "t2", "s": 278, "e": 300},
  {"tx": "t3", "s": 167, "e": 172}, {"tx": "t3", "s": 182, "e": 185}, {"tx": "t3", "s": 190, "e": 193}, {"tx": "t3", "s": 232, "e": 234}, {"tx": "t3", "s": 249, "e": 267}, {"tx": "t3", "s": 278, "e": 313},
  {"tx": "t4", "s": 167, "e": 172}, {"tx": "t4", "s": 182, "e": 185}, {"tx": "t4", "s": 190, "e": 193}, {"tx": "t4", "s": 249, "e": 267}, {"tx": "t4", "s": 278, "e": 295},
  {"tx": "lg", "s": 188, "e": 200}
],
"gtx": [{"tx": "lg", "x": 204, "t": "Truncated Variants"}],
"hsp": [
  {"tx": "t1", "s": 357, "e": 512}, {"tx": "t2", "s": 357, "e": 512}, {"tx": "t3", "s": 357, "e": 512}, {"tx": "t4", "s": 357, "e": 512}, {"tx": "t5", "s": 357, "e": 512},
  {"tx": "t6", "s": 357, "e": 512}, {"tx": "t7", "s": 357, "e": 512}, {"tx": "t8", "s": 357, "e": 512}, {"tx": "t9", "s": 357, "e": 512}, {"tx": "t10", "s": 357, "e": 512}
],
"hblk": [
  {"tx": "t1", "s": 357, "e": 360}, {"tx": "t2", "s": 357, "e": 360}, {"tx": "t3", "s": 357, "e": 360}, {"tx": "t4", "s": 357, "e": 360}, {"tx": "t5", "s": 357, "e": 360},
  {"tx": "t6", "s": 357, "e": 360}, {"tx": "t7", "s": 357, "e": 360}, {"tx": "t8", "s": 357, "e": 360}, {"tx": "t9", "s": 357, "e": 360}, {"tx": "t10", "s": 357, "e": 360},
  {"tx": "t1", "s": 509, "e": 513}, {"tx": "t2", "s": 509, "e": 513}, {"tx": "t3", "s": 509, "e": 513}, {"tx": "t4", "s": 509, "e": 513}, {"tx": "t5", "s": 509, "e": 513},
  {"tx": "t6", "s": 509, "e": 513}, {"tx": "t7", "s": 509, "e": 513}, {"tx": "t8", "s": 509, "e": 513}, {"tx": "t9", "s": 509, "e": 513}, {"tx": "t10", "s": 509, "e": 513}
],
"htk": [
  {"tx": "t1", "p": 370}, {"tx": "t1", "p": 373}, {"tx": "t1", "p": 375}, {"tx": "t1", "p": 416}, {"tx": "t1", "p": 430}, {"tx": "t1", "p": 441}, {"tx": "t1", "p": 443}, {"tx": "t1", "p": 461}, {"tx": "t1", "p": 468}, {"tx": "t1", "p": 473}, {"tx": "t1", "p": 489},
  {"tx": "t2", "p": 383}, {"tx": "t2", "p": 390}, {"tx": "t2", "p": 393}, {"tx": "t2", "p": 416}, {"tx": "t2", "p": 441}, {"tx": "t2", "p": 443}, {"tx": "t2", "p": 457}, {"tx": "t2", "p": 468}, {"tx": "t2", "p": 473},
  {"tx": "t3", "p": 370}, {"tx": "t3", "p": 373}, {"tx": "t3", "p": 375}, {"tx": "t3", "p": 416}, {"tx": "t3", "p": 430}, {"tx": "t3", "p": 441}, {"tx": "t3", "p": 443}, {"tx": "t3", "p": 468}, {"tx": "t3", "p": 473}, {"tx": "t3", "p": 489},
  {"tx": "t4", "p": 370}, {"tx": "t4", "p": 373}, {"tx": "t4", "p": 405}, {"tx": "t4", "p": 416}, {"tx": "t4", "p": 430}, {"tx": "t4", "p": 441}, {"tx": "t4", "p": 443}, {"tx": "t4", "p": 468}, {"tx": "t4", "p": 473}, {"tx": "t4", "p": 489},
  {"tx": "t5", "p": 370}, {"tx": "t5", "p": 385}, {"tx": "t5", "p": 390}, {"tx": "t5", "p": 393}, {"tx": "t5", "p": 416}, {"tx": "t5", "p": 430}, {"tx": "t5", "p": 441}, {"tx": "t5", "p": 443}, {"tx": "t5", "p": 457}, {"tx": "t5", "p": 468}, {"tx": "t5", "p": 473},
  {"tx": "t6", "p": 370}, {"tx": "t6", "p": 373}, {"tx": "t6", "p": 416}, {"tx": "t6", "p": 423}, {"tx": "t6", "p": 441}, {"tx": "t6", "p": 443}, {"tx": "t6", "p": 468}, {"tx": "t6", "p": 473},
  {"tx": "t7", "p": 370}, {"tx": "t7", "p": 373}, {"tx": "t7", "p": 416}, {"tx": "t7", "p": 441}, {"tx": "t7", "p": 443}, {"tx": "t7", "p": 457}, {"tx": "t7", "p": 468}, {"tx": "t7", "p": 473},
  {"tx": "t8", "p": 370}, {"tx": "t8", "p": 373}, {"tx": "t8", "p": 416}, {"tx": "t8", "p": 430}, {"tx": "t8", "p": 441}, {"tx": "t8", "p": 443}, {"tx": "t8", "p": 468}, {"tx": "t8", "p": 473},
  {"tx": "t9", "p": 405}, {"tx": "t9", "p": 416}, {"tx": "t9", "p": 441}, {"tx": "t9", "p": 443}, {"tx": "t9", "p": 468}, {"tx": "t9", "p": 473},
  {"tx": "t10", "p": 370}, {"tx": "t10", "p": 373}, {"tx": "t10", "p": 416}, {"tx": "t10", "p": 430}, {"tx": "t10", "p": 441}, {"tx": "t10", "p": 443}, {"tx": "t10", "p": 468}, {"tx": "t10", "p": 473}
],
"isp": [{"tx": "APP 695", "s": 566, "e": 755}, {"tx": "APP 751", "s": 566, "e": 755}, {"tx": "APP 770", "s": 566, "e": 755}, {"tx": "APP x", "s": 566, "e": 755}],
"ilab": [{"tx": "APP 695", "x": 561, "t": "APP 695"}, {"tx": "APP 751", "x": 561, "t": "APP 751"}, {"tx": "APP 770", "x": 561, "t": "APP 770"}],
"iblk": [
  {"tx": "APP 695", "s": 563, "e": 568}, {"tx": "APP 751", "s": 563, "e": 568}, {"tx": "APP 770", "s": 563, "e": 568}, {"tx": "APP x", "s": 563, "e": 568},
  {"tx": "APP 695", "s": 752, "e": 757}, {"tx": "APP 751", "s": 752, "e": 757}, {"tx": "APP 770", "s": 752, "e": 757}
],
"itk": [
  {"tx": "APP 695", "p": 580}, {"tx": "APP 695", "p": 588}, {"tx": "APP 695", "p": 597}, {"tx": "APP 695", "p": 602}, {"tx": "APP 695", "p": 625}, {"tx": "APP 695", "p": 627}, {"tx": "APP 695", "p": 641}, {"tx": "APP 695", "p": 643}, {"tx": "APP 695", "p": 652}, {"tx": "APP 695", "p": 698}, {"tx": "APP 695", "p": 717}, {"tx": "APP 695", "p": 719}, {"tx": "APP 695", "p": 730}, {"tx": "APP 695", "p": 742},
  {"tx": "APP 751", "p": 580}, {"tx": "APP 751", "p": 588}, {"tx": "APP 751", "p": 597}, {"tx": "APP 751", "p": 602}, {"tx": "APP 751", "p": 625}, {"tx": "APP 751", "p": 627}, {"tx": "APP 751", "p": 641}, {"tx": "APP 751", "p": 643}, {"tx": "APP 751", "p": 652}, {"tx": "APP 751", "p": 678}, {"tx": "APP 751", "p": 698}, {"tx": "APP 751", "p": 717}, {"tx": "APP 751", "p": 719}, {"tx": "APP 751", "p": 730}, {"tx": "APP 751", "p": 742},
  {"tx": "APP 770", "p": 580}, {"tx": "APP 770", "p": 588}, {"tx": "APP 770", "p": 597}, {"tx": "APP 770", "p": 602}, {"tx": "APP 770", "p": 625}, {"tx": "APP 770", "p": 627}, {"tx": "APP 770", "p": 641}, {"tx": "APP 770", "p": 643}, {"tx": "APP 770", "p": 652}, {"tx": "APP 770", "p": 668}, {"tx": "APP 770", "p": 678}, {"tx": "APP 770", "p": 698}, {"tx": "APP 770", "p": 717}, {"tx": "APP 770", "p": 719}, {"tx": "APP 770", "p": 730}, {"tx": "APP 770", "p": 742},
  {"tx": "APP x", "p": 580}, {"tx": "APP x", "p": 588}, {"tx": "APP x", "p": 597}, {"tx": "APP x", "p": 602}, {"tx": "APP x", "p": 625}, {"tx": "APP x", "p": 627}, {"tx": "APP x", "p": 641}, {"tx": "APP x", "p": 643}, {"tx": "APP x", "p": 652}, {"tx": "APP x", "p": 717}, {"tx": "APP x", "p": 719}
]
},
"concat": [
{
  "concat": [
    {
      "vconcat": [
        {
          "hconcat": [
            {
              "width": 111, "height": 154,
              "layer": [
                {"data": {"name": "v2"}, "transform": [{"filter": "datum.type=='FSM' && datum.set=='DS'"}],
                 "mark": {"type": "point", "shape": "circle", "filled": true, "size": 12100, "color": "#a98ac6", "opacity": 1, "strokeWidth": 0},
                 "encoding": {"x": {"field": "x", "type": "quantitative", "scale": {"domain": [35, 146], "nice": false, "zero": false}, "axis": null},
                              "y": {"field": "y", "type": "quantitative", "scale": {"domain": [168, 14], "nice": false, "zero": false}, "axis": null}}},
                {"data": {"name": "v2"}, "transform": [{"filter": "datum.type=='FSM' && datum.set=='Ctrl'"}],
                 "mark": {"type": "point", "shape": "circle", "filled": true, "size": 11236, "color": "#e10014", "opacity": 0.55, "strokeWidth": 0},
                 "encoding": {"x": {"field": "x", "type": "quantitative"}, "y": {"field": "y", "type": "quantitative"}}},
                {"data": {"name": "v2t"}, "transform": [{"filter": "datum.type=='FSM' && datum.k=='n'"}],
                 "mark": {"type": "text", "fontSize": 9, "color": "#222"},
                 "encoding": {"x": {"field": "x", "type": "quantitative"}, "y": {"field": "y", "type": "quantitative"}, "text": {"field": "t"}}},
                {"data": {"name": "v2t"}, "transform": [{"filter": "datum.type=='FSM' && datum.k=='s'"}],
                 "mark": {"type": "text", "fontSize": 13, "baseline": "alphabetic"},
                 "encoding": {"x": {"field": "x", "type": "quantitative"}, "y": {"field": "y", "type": "quantitative"}, "text": {"field": "t"}}},
                {"data": {"name": "v2t"}, "transform": [{"filter": "datum.type=='FSM' && datum.k=='h'"}],
                 "mark": {"type": "text", "fontSize": 20, "align": "left", "baseline": "alphabetic"},
                 "encoding": {"x": {"field": "x", "type": "quantitative"}, "y": {"field": "y", "type": "quantitative"}, "text": {"field": "t"}}},
                {"data": {"name": "v2t"}, "transform": [{"filter": "datum.type=='FSM' && datum.k=='p'"}],
                 "mark": {"type": "text", "fontSize": 18, "align": "left", "baseline": "alphabetic"},
                 "encoding": {"x": {"field": "x", "type": "quantitative"}, "y": {"field": "y", "type": "quantitative"}, "text": {"field": "t"}}}
              ]
            },
            {
              "width": 195, "height": 154,
              "layer": [
                {"data": {"name": "v4"}, "transform": [{"filter": "datum.type=='FSM' && datum.set=='DS-old'"}],
                 "mark": {"type": "point", "shape": "M0.7986,0.6018C0.6231,0.8347,0.1233,0.7541,-0.3178,0.4217C-0.7589,0.0893,-0.9741,-0.3689,-0.7986,-0.6018C-0.6231,-0.8347,-0.1233,-0.7541,0.3178,-0.4217C0.7589,-0.0893,0.9741,0.3689,0.7986,0.6018Z", "filled": true, "size": 20736, "color": "#150027", "opacity": 0.5, "strokeWidth": 0},
                 "encoding": {"x": {"field": "x", "type": "quantitative", "scale": {"domain": [6, 201], "nice": false, "zero": false}, "axis": null},
                              "y": {"field": "y", "type": "quantitative", "scale": {"domain": [168, 14], "nice": false, "zero": false}, "axis": null}}},
                {"data": {"name": "v4"}, "transform": [{"filter": "datum.type=='FSM' && datum.set=='Ctrl-old'"}],
                 "mark": {"type": "point", "shape": "M-0.7986,0.6018C-0.6231,0.8347,-0.1233,0.7541,0.3178,0.4217C0.7589,0.0893,0.9741,-0.3689,0.7986,-0.6018C0.6231,-0.8347,0.1233,-0.7541,-0.3178,-0.4217C-0.7589,-0.0893,-0.9741,0.3689,-0.7986,0.6018Z", "filled": true, "size": 20736, "color": "#83000d", "opacity": 0.5, "strokeWidth": 0},
                 "encoding": {"x": {"field": "x", "type": "quantitative"}, "y": {"field": "y", "type": "quantitative"}}},
                {"data": {"name": "v4"}, "transform": [{"filter": "datum.type=='FSM' && datum.set=='Ctrl-young'"}],
                 "mark": {"type": "point", "shape": "M-0.6428,0.766C-0.4194,0.9534,0.0494,0.7625,0.4044,0.3394C0.7594,-0.0837,0.8662,-0.5786,0.6428,-0.766C0.4194,-0.9534,-0.0494,-0.7625,-0.4044,-0.3394C-0.7594,0.0837,-0.8662,0.5786,-0.6428,0.766Z", "filled": true, "size": 20736, "color": "#e12b3f", "opacity": 0.5, "strokeWidth": 0},
                 "encoding": {"x": {"field": "x", "type": "quantitative"}, "y": {"field": "y", "type": "quantitative"}}},
                {"data": {"name": "v4"}, "transform": [{"filter": "datum.type=='FSM' && datum.set=='DS-young'"}],
                 "mark": {"type": "point", "shape": "M0.6428,0.766C0.4194,0.9534,-0.0494,0.7625,-0.4044,0.3394C-0.7594,-0.0837,-0.8662,-0.5786,-0.6428,-0.766C-0.4194,-0.9534,0.0494,-0.7625,0.4044,-0.3394C0.7594,0.0837,0.8662,0.5786,0.6428,0.766Z", "filled": true, "size": 20736, "color": "#9765b9", "opacity": 0.5, "strokeWidth": 0},
                 "encoding": {"x": {"field": "x", "type": "quantitative"}, "y": {"field": "y", "type": "quantitative"}}},
                {"data": {"name": "v4n"}, "transform": [{"filter": "datum.type=='FSM'"}],
                 "mark": {"type": "text", "fontSize": 9, "color": "#222"},
                 "encoding": {"x": {"field": "x", "type": "quantitative"}, "y": {"field": "y", "type": "quantitative"}, "text": {"field": "n"}}},
                {"data": {"name": "v4l"},
                 "mark": {"type": "text", "fontSize": 13, "baseline": "top", "lineBreak": "|", "lineHeight": 12},
                 "encoding": {"x": {"field": "x", "type": "quantitative"}, "y": {"field": "y", "type": "quantitative"}, "text": {"field": "t"}}}
              ]
            }
          ],
          "spacing": 0
        },
        {
          "hconcat": [
            {
              "width": 111, "height": 137,
              "layer": [
                {"data": {"name": "v2"}, "transform": [{"filter": "datum.type=='NIC' && datum.set=='DS'"}],
                 "mark": {"type": "point", "shape": "circle", "filled": true, "size": 11664, "color": "#a98ac6", "opacity": 1, "strokeWidth": 0},
                 "encoding": {"x": {"field": "x", "type": "quantitative", "scale": {"domain": [35, 146], "nice": false, "zero": false}, "axis": null},
                              "y": {"field": "y", "type": "quantitative", "scale": {"domain": [137, 0], "nice": false}, "axis": null}}},
                {"data": {"name": "v2"}, "transform": [{"filter": "datum.type=='NIC' && datum.set=='Ctrl'"}],
                 "mark": {"type": "point", "shape": "circle", "filled": true, "size": 9409, "color": "#e10014", "opacity": 0.55, "strokeWidth": 0},
                 "encoding": {"x": {"field": "x", "type": "quantitative"}, "y": {"field": "y", "type": "quantitative"}}},
                {"data": {"name": "v2t"}, "transform": [{"filter": "datum.type=='NIC' && datum.k=='n'"}],
                 "mark": {"type": "text", "fontSize": 9, "color": "#222"},
                 "encoding": {"x": {"field": "x", "type": "quantitative"}, "y": {"field": "y", "type": "quantitative"}, "text": {"field": "t"}}},
                {"data": {"name": "v2t"}, "transform": [{"filter": "datum.type=='NIC' && datum.k=='h'"}],
                 "mark": {"type": "text", "fontSize": 20, "align": "left", "baseline": "alphabetic"},
                 "encoding": {"x": {"field": "x", "type": "quantitative"}, "y": {"field": "y", "type": "quantitative"}, "text": {"field": "t"}}}
              ]
            },
            {
              "width": 195, "height": 137,
              "layer": [
                {"data": {"name": "v4"}, "transform": [{"filter": "datum.type=='NIC' && datum.set=='DS-old'"}],
                 "mark": {"type": "point", "shape": "M0.7986,0.6018C0.6231,0.8347,0.1233,0.7541,-0.3178,0.4217C-0.7589,0.0893,-0.9741,-0.3689,-0.7986,-0.6018C-0.6231,-0.8347,-0.1233,-0.7541,0.3178,-0.4217C0.7589,-0.0893,0.9741,0.3689,0.7986,0.6018Z", "filled": true, "size": 20736, "color": "#150027", "opacity": 0.5, "strokeWidth": 0},
                 "encoding": {"x": {"field": "x", "type": "quantitative", "scale": {"domain": [6, 201], "nice": false, "zero": false}, "axis": null},
                              "y": {"field": "y", "type": "quantitative", "scale": {"domain": [137, 0], "nice": false}, "axis": null}}},
                {"data": {"name": "v4"}, "transform": [{"filter": "datum.type=='NIC' && datum.set=='Ctrl-old'"}],
                 "mark": {"type": "point", "shape": "M-0.7986,0.6018C-0.6231,0.8347,-0.1233,0.7541,0.3178,0.4217C0.7589,0.0893,0.9741,-0.3689,0.7986,-0.6018C0.6231,-0.8347,0.1233,-0.7541,-0.3178,-0.4217C-0.7589,-0.0893,-0.9741,0.3689,-0.7986,0.6018Z", "filled": true, "size": 20736, "color": "#83000d", "opacity": 0.5, "strokeWidth": 0},
                 "encoding": {"x": {"field": "x", "type": "quantitative"}, "y": {"field": "y", "type": "quantitative"}}},
                {"data": {"name": "v4"}, "transform": [{"filter": "datum.type=='NIC' && datum.set=='Ctrl-young'"}],
                 "mark": {"type": "point", "shape": "M-0.6428,0.766C-0.4194,0.9534,0.0494,0.7625,0.4044,0.3394C0.7594,-0.0837,0.8662,-0.5786,0.6428,-0.766C0.4194,-0.9534,-0.0494,-0.7625,-0.4044,-0.3394C-0.7594,0.0837,-0.8662,0.5786,-0.6428,0.766Z", "filled": true, "size": 20736, "color": "#e12b3f", "opacity": 0.5, "strokeWidth": 0},
                 "encoding": {"x": {"field": "x", "type": "quantitative"}, "y": {"field": "y", "type": "quantitative"}}},
                {"data": {"name": "v4"}, "transform": [{"filter": "datum.type=='NIC' && datum.set=='DS-young'"}],
                 "mark": {"type": "point", "shape": "M0.6428,0.766C0.4194,0.9534,-0.0494,0.7625,-0.4044,0.3394C-0.7594,-0.0837,-0.8662,-0.5786,-0.6428,-0.766C-0.4194,-0.9534,0.0494,-0.7625,0.4044,-0.3394C0.7594,0.0837,0.8662,0.5786,0.6428,0.766Z", "filled": true, "size": 20736, "color": "#9765b9", "opacity": 0.5, "strokeWidth": 0},
                 "encoding": {"x": {"field": "x", "type": "quantitative"}, "y": {"field": "y", "type": "quantitative"}}},
                {"data": {"name": "v4n"}, "transform": [{"filter": "datum.type=='NIC'"}],
                 "mark": {"type": "text", "fontSize": 9, "color": "#222"},
                 "encoding": {"x": {"field": "x", "type": "quantitative"}, "y": {"field": "y", "type": "quantitative"}, "text": {"field": "n"}}}
              ]
            }
          ],
          "spacing": 0
        },
        {
          "hconcat": [
            {
              "width": 111, "height": 135,
              "layer": [
                {"data": {"name": "v2"}, "transform": [{"filter": "datum.type=='NNC' && datum.set=='DS'"}],
                 "mark": {"type": "point", "shape": "circle", "filled": true, "size": 9604, "color": "#a98ac6", "opacity": 1, "strokeWidth": 0},
                 "encoding": {"x": {"field": "x", "type": "quantitative", "scale": {"domain": [35, 146], "nice": false, "zero": false}, "axis": null},
                              "y": {"field": "y", "type": "quantitative", "scale": {"domain": [135, 0], "nice": false}, "axis": null}}},
                {"data": {"name": "v2"}, "transform": [{"filter": "datum.type=='NNC' && datum.set=='Ctrl'"}],
                 "mark": {"type": "point", "shape": "circle", "filled": true, "size": 6724, "color": "#e10014", "opacity": 0.55, "strokeWidth": 0},
                 "encoding": {"x": {"field": "x", "type": "quantitative"}, "y": {"field": "y", "type": "quantitative"}}},
                {"data": {"name": "v2t"}, "transform": [{"filter": "datum.type=='NNC' && datum.k=='n'"}],
                 "mark": {"type": "text", "fontSize": 9, "color": "#222"},
                 "encoding": {"x": {"field": "x", "type": "quantitative"}, "y": {"field": "y", "type": "quantitative"}, "text": {"field": "t"}}},
                {"data": {"name": "v2t"}, "transform": [{"filter": "datum.type=='NNC' && datum.k=='h'"}],
                 "mark": {"type": "text", "fontSize": 20, "align": "left", "baseline": "alphabetic"},
                 "encoding": {"x": {"field": "x", "type": "quantitative"}, "y": {"field": "y", "type": "quantitative"}, "text": {"field": "t"}}}
              ]
            },
            {
              "width": 195, "height": 135,
              "layer": [
                {"data": {"name": "v4"}, "transform": [{"filter": "datum.type=='NNC' && datum.set=='DS-old'"}],
                 "mark": {"type": "point", "shape": "M0.7986,0.6018C0.6231,0.8347,0.1233,0.7541,-0.3178,0.4217C-0.7589,0.0893,-0.9741,-0.3689,-0.7986,-0.6018C-0.6231,-0.8347,-0.1233,-0.7541,0.3178,-0.4217C0.7589,-0.0893,0.9741,0.3689,0.7986,0.6018Z", "filled": true, "size": 20736, "color": "#150027", "opacity": 0.5, "strokeWidth": 0},
                 "encoding": {"x": {"field": "x", "type": "quantitative", "scale": {"domain": [6, 201], "nice": false, "zero": false}, "axis": null},
                              "y": {"field": "y", "type": "quantitative", "scale": {"domain": [135, 0], "nice": false}, "axis": null}}},
                {"data": {"name": "v4"}, "transform": [{"filter": "datum.type=='NNC' && datum.set=='Ctrl-old'"}],
                 "mark": {"type": "point", "shape": "M-0.7986,0.6018C-0.6231,0.8347,-0.1233,0.7541,0.3178,0.4217C0.7589,0.0893,0.9741,-0.3689,0.7986,-0.6018C0.6231,-0.8347,0.1233,-0.7541,-0.3178,-0.4217C-0.7589,-0.0893,-0.9741,0.3689,-0.7986,0.6018Z", "filled": true, "size": 20736, "color": "#83000d", "opacity": 0.5, "strokeWidth": 0},
                 "encoding": {"x": {"field": "x", "type": "quantitative"}, "y": {"field": "y", "type": "quantitative"}}},
                {"data": {"name": "v4"}, "transform": [{"filter": "datum.type=='NNC' && datum.set=='Ctrl-young'"}],
                 "mark": {"type": "point", "shape": "M-0.6428,0.766C-0.4194,0.9534,0.0494,0.7625,0.4044,0.3394C0.7594,-0.0837,0.8662,-0.5786,0.6428,-0.766C0.4194,-0.9534,-0.0494,-0.7625,-0.4044,-0.3394C-0.7594,0.0837,-0.8662,0.5786,-0.6428,0.766Z", "filled": true, "size": 20736, "color": "#e12b3f", "opacity": 0.5, "strokeWidth": 0},
                 "encoding": {"x": {"field": "x", "type": "quantitative"}, "y": {"field": "y", "type": "quantitative"}}},
                {"data": {"name": "v4"}, "transform": [{"filter": "datum.type=='NNC' && datum.set=='DS-young'"}],
                 "mark": {"type": "point", "shape": "M0.6428,0.766C0.4194,0.9534,-0.0494,0.7625,-0.4044,0.3394C-0.7594,-0.0837,-0.8662,-0.5786,-0.6428,-0.766C-0.4194,-0.9534,0.0494,-0.7625,0.4044,-0.3394C0.7594,0.0837,0.8662,0.5786,0.6428,0.766Z", "filled": true, "size": 20736, "color": "#9765b9", "opacity": 0.5, "strokeWidth": 0},
                 "encoding": {"x": {"field": "x", "type": "quantitative"}, "y": {"field": "y", "type": "quantitative"}}},
                {"data": {"name": "v4n"}, "transform": [{"filter": "datum.type=='NNC'"}],
                 "mark": {"type": "text", "fontSize": 9, "color": "#222"},
                 "encoding": {"x": {"field": "x", "type": "quantitative"}, "y": {"field": "y", "type": "quantitative"}, "text": {"field": "n"}}}
              ]
            }
          ],
          "spacing": 0
        }
      ],
      "spacing": 0
    },
    {
      "concat": [
        {
          "hconcat": [
            {
              "width": 150, "height": 106,
              "data": {"name": "bnic"},
              "encoding": {
                "x": {"field": "g", "type": "nominal", "sort": ["Ctrl-y", "Ctrl-o", "DS-y", "DS-o"], "scale": {"paddingInner": 0.1, "paddingOuter": 0.05}, "axis": {"title": null, "labelAngle": 0, "labelFontSize": 12.5, "tickSize": 4, "labelPadding": 2}},
                "xOffset": {"field": "c", "type": "nominal", "sort": ["Ast", "End", "Ex", "In", "Mic", "Oli", "OPC", "Per"], "scale": {"paddingInner": 0.08}},
                "y": {"field": "v", "type": "quantitative", "scale": {"domain": [0, 0.25], "nice": false}, "axis": {"values": [0, 0.05, 0.1, 0.15, 0.2, 0.25], "labelExpr": "datum.value==0?'0':format(datum.value,'.2f')", "title": "Fraction of NIC", "titleFontSize": 12.5, "titlePadding": 2, "labelFontSize": 11.5, "tickSize": 4}}
              },
              "layer": [
                {"mark": {"type": "bar"},
                 "encoding": {"color": {"field": "c", "type": "nominal", "scale": {"domain": ["Ast", "End", "Ex", "In", "Mic", "Oli", "OPC", "Per"], "range": ["#f5756d", "#ef8c28", "#2cb04b", "#28b8d6", "#c687c6", "#ee8c2c", "#e273c1", "#f16ba8"]},
                   "legend": {"values": ["Ast", "End", "Ex", "In"], "orient": "none", "legendX": 8, "legendY": -4, "direction": "horizontal", "title": null, "symbolType": "square", "symbolSize": 70, "symbolStrokeWidth": 0, "labelFontSize": 11.5, "columnPadding": 7, "labelOffset": 4}}}},
                {"mark": {"type": "rule", "color": "#a0a0a0", "strokeWidth": 0.9}, "encoding": {"y2": {"field": "e"}}},
                {"mark": {"type": "tick", "color": "#a0a0a0", "thickness": 1, "size": 3}, "encoding": {"y": {"field": "e", "type": "quantitative", "title": "Fraction of NIC"}}}
              ]
            },
            {
              "width": 160, "height": 106,
              "data": {"name": "bnnc"},
              "encoding": {
                "x": {"field": "g", "type": "nominal", "sort": ["Ctrl-y", "Ctrl-o", "DS-y", "DS-o"], "scale": {"paddingInner": 0.1, "paddingOuter": 0.05}, "axis": {"title": null, "labelAngle": 0, "labelFontSize": 12.5, "tickSize": 4, "labelPadding": 2}},
                "xOffset": {"field": "c", "type": "nominal", "sort": ["Ast", "End", "Ex", "In", "Mic", "Oli", "OPC", "Per"], "scale": {"paddingInner": 0.08}},
                "y": {"field": "v", "type": "quantitative", "scale": {"domain": [0, 0.2], "nice": false}, "axis": {"values": [0, 0.05, 0.1, 0.15, 0.2], "labelExpr": "datum.value==0?'0':format(datum.value,'.2f')", "title": "Fraction of NNC", "titleFontSize": 12.5, "titlePadding": 2, "labelFontSize": 11.5, "tickSize": 4}}
              },
              "layer": [
                {"mark": {"type": "bar"},
                 "encoding": {"color": {"field": "c", "type": "nominal", "scale": {"domain": ["Ast", "End", "Ex", "In", "Mic", "Oli", "OPC", "Per"], "range": ["#f5756d", "#ef8c28", "#2cb04b", "#28b8d6", "#c687c6", "#ee8c2c", "#e273c1", "#f16ba8"]},
                   "legend": {"values": ["Mic", "Oli", "OPC", "Per"], "orient": "none", "legendX": 8, "legendY": -4, "direction": "horizontal", "title": null, "symbolType": "square", "symbolSize": 70, "symbolStrokeWidth": 0, "labelFontSize": 11.5, "columnPadding": 6, "labelOffset": 4}}}},
                {"mark": {"type": "rule", "color": "#a0a0a0", "strokeWidth": 0.9}, "encoding": {"y2": {"field": "e"}}},
                {"mark": {"type": "tick", "color": "#a0a0a0", "thickness": 1, "size": 3}, "encoding": {"y": {"field": "e", "type": "quantitative", "title": "Fraction of NNC"}}}
              ]
            }
          ],
          "spacing": 8,
          "title": {"text": "B", "anchor": "start", "fontSize": 18, "offset": -14},
          "resolve": {"scale": {"color": "independent"}, "legend": {"color": "independent"}}
        },
        {
          "hconcat": [
            {
              "width": 150, "height": 103,
              "layer": [
                {
                  "data": {"name": "cnic"},
                  "encoding": {
                    "x": {"field": "c", "type": "nominal", "sort": ["Ast", "Ex", "Oli", "Mic", "In", "OPC", "End", "Per"], "scale": {"type": "band", "paddingInner": 0, "paddingOuter": 0}, "axis": {"title": null, "labelAngle": -45, "labelFontSize": 12, "tickSize": 4, "labelPadding": 1}},
                    "y": {"field": "v", "type": "quantitative", "scale": {"domain": [0.05, 0.3], "nice": false, "zero": false}, "axis": {"values": [0.05, 0.1, 0.15, 0.2, 0.25, 0.3], "format": ".2f", "title": "Fraction of NIC", "titleFontSize": 12.5, "titlePadding": 2, "labelFontSize": 9.5, "tickSize": 4}}
                  },
                  "layer": [
                    {"mark": {"type": "point", "filled": true, "size": 24, "opacity": 1, "stroke": "#f4f4f4", "strokeWidth": 0.4},
                     "encoding": {"xOffset": {"field": "r", "type": "ordinal", "scale": {"paddingOuter": 0.4}},
                                  "color": {"field": "c", "type": "nominal", "scale": {"domain": ["Ast", "Ex", "Oli", "Mic", "In", "OPC", "End", "Per"], "range": ["#f4706f", "#2aad48", "#d27cc4", "#b36ec0", "#23b3cb", "#e366b4", "#eb9020", "#f06ca4"]}, "legend": null}}},
                    {"mark": {"type": "tick", "color": "#000", "thickness": 2, "size": 9},
                     "encoding": {"y": {"field": "v", "aggregate": "median", "type": "quantitative", "title": "Fraction of NIC"}}}
                  ]
                },
                {
                  "layer": [
                    {"data": {"name": "brnic"}, "mark": {"type": "line", "color": "#000", "strokeWidth": 1},
                     "encoding": {"x": {"field": "x", "type": "quantitative", "scale": {"domain": [-0.5, 7.5], "nice": false, "zero": false}, "axis": null},
                                  "y": {"field": "y", "type": "quantitative", "title": "Fraction of NIC"},
                                  "detail": {"field": "id"}, "order": {"field": "o", "type": "quantitative"}}},
                    {"data": {"name": "brtnic"}, "mark": {"type": "text", "fontSize": 10, "baseline": "bottom", "dy": 3},
                     "encoding": {"x": {"field": "x", "type": "quantitative"}, "y": {"field": "y", "type": "quantitative", "title": "Fraction of NIC"}, "text": {"field": "t"}}}
                  ]
                }
              ],
              "resolve": {"scale": {"x": "independent"}}
            },
            {
              "width": 156, "height": 104,
              "layer": [
                {
                  "data": {"name": "cnnc"},
                  "encoding": {
                    "x": {"field": "c", "type": "nominal", "sort": ["Ast", "Ex", "In", "Oli", "OPC", "Mic", "Per", "End"], "scale": {"type": "band", "paddingInner": 0, "paddingOuter": 0}, "axis": {"title": null, "labelAngle": -45, "labelFontSize": 12, "tickSize": 4, "labelPadding": 1}},
                    "y": {"field": "v", "type": "quantitative", "scale": {"domain": [0.05, 0.2], "nice": false, "zero": false}, "axis": {"values": [0.05, 0.1, 0.15, 0.2], "format": ".2f", "title": "Fraction of NNC", "titleFontSize": 12.5, "titlePadding": 2, "labelFontSize": 9.5, "tickSize": 4}}
                  },
                  "layer": [
                    {"mark": {"type": "point", "filled": true, "size": 24, "opacity": 1, "stroke": "#f4f4f4", "strokeWidth": 0.4},
                     "encoding": {"xOffset": {"field": "r", "type": "ordinal", "scale": {"paddingOuter": 0.4}},
                                  "color": {"field": "c", "type": "nominal", "scale": {"domain": ["Ast", "Ex", "In", "Oli", "OPC", "Mic", "Per", "End"], "range": ["#f4706f", "#2aad48", "#23b3cb", "#d27cc4", "#e366b4", "#b36ec0", "#f06ca4", "#eb9020"]}, "legend": null}}},
                    {"mark": {"type": "tick", "color": "#000", "thickness": 2, "size": 9},
                     "encoding": {"y": {"field": "v", "aggregate": "median", "type": "quantitative", "title": "Fraction of NNC"}}}
                  ]
                },
                {
                  "layer": [
                    {"data": {"name": "brnnc"}, "mark": {"type": "line", "color": "#000", "strokeWidth": 1},
                     "encoding": {"x": {"field": "x", "type": "quantitative", "scale": {"domain": [-0.5, 7.5], "nice": false, "zero": false}, "axis": null},
                                  "y": {"field": "y", "type": "quantitative", "title": "Fraction of NNC"},
                                  "detail": {"field": "id"}, "order": {"field": "o", "type": "quantitative"}}},
                    {"data": {"name": "brtnnc"}, "mark": {"type": "text", "fontSize": 10, "baseline": "bottom", "dy": 3},
                     "encoding": {"x": {"field": "x", "type": "quantitative"}, "y": {"field": "y", "type": "quantitative", "title": "Fraction of NNC"}, "text": {"field": "t"}}}
                  ]
                }
              ],
              "resolve": {"scale": {"x": "independent"}}
            }
          ],
          "spacing": 14,
          "title": {"text": "C", "anchor": "start", "fontSize": 18, "offset": -12},
          "resolve": {"scale": {"color": "independent"}, "legend": {"color": "independent"}}
        },
        {
          "hconcat": [
            {
              "width": 110, "height": 108,
              "title": {"text": "D", "anchor": "start", "fontSize": 18, "offset": -6},
              "layer": [
                {"data": {"name": "dvol"}, "mark": {"type": "point", "filled": false, "size": 9, "strokeWidth": 0.7, "opacity": 0.8},
                 "encoding": {
                   "x": {"field": "x", "type": "quantitative", "scale": {"domain": [-8, 8], "nice": false}, "axis": {"values": [-8, -4, 0, 4, 8], "title": "log2 fold change", "titleFontSize": 12.5, "labelFontSize": 12, "tickSize": 4, "titlePadding": 2}},
                   "y": {"field": "y", "type": "quantitative", "scale": {"domain": [0, 75], "nice": false}, "axis": {"values": [0, 20, 40, 60], "title": "% usage change", "titleFontSize": 12.5, "labelFontSize": 12, "tickSize": 4, "titlePadding": 2}},
                   "color": {"field": "k", "type": "nominal", "scale": {"domain": ["chg", "no"], "range": ["#8ab4e0", "#79c043"]},
                     "legend": {"orient": "none", "legendX": 62, "legendY": 0, "title": null, "labelExpr": "datum.value=='chg'?['Change in most','common isoform']:['No change in','most common','isoform']", "labelFontSize": 9.5, "symbolSize": 22, "symbolStrokeWidth": 1.2, "rowPadding": 2, "labelLimit": 200}}
                 }},
                {"data": {"name": "dref"}, "mark": {"type": "rule", "color": "#e8474f", "strokeDash": [3, 2], "strokeWidth": 1},
                 "encoding": {"x": {"field": "x", "type": "quantitative"}, "y": {"datum": 0}, "y2": {"datum": 73}}},
                {"data": {"values": [{}]}, "mark": {"type": "rule", "color": "#444", "strokeWidth": 1},
                 "encoding": {"x": {"datum": -3.4}, "x2": {"datum": 3.2}, "y": {"datum": 79}}},
                {"data": {"values": [{}]}, "mark": {"type": "point", "shape": "triangle-left", "filled": true, "size": 18, "color": "#444", "opacity": 1},
                 "encoding": {"x": {"datum": -3.4}, "y": {"datum": 79}}},
                {"data": {"values": [{}]}, "mark": {"type": "point", "shape": "triangle-right", "filled": true, "size": 18, "color": "#444", "opacity": 1},
                 "encoding": {"x": {"datum": 3.2}, "y": {"datum": 79}}},
                {"data": {"values": [{}]}, "mark": {"type": "text", "fontSize": 13.5, "align": "right"},
                 "encoding": {"x": {"datum": -3.9}, "y": {"datum": 79}, "text": {"value": "Ctrl"}}},
                {"data": {"values": [{}]}, "mark": {"type": "text", "fontSize": 13.5, "align": "left"},
                 "encoding": {"x": {"datum": 3.7}, "y": {"datum": 79}, "text": {"value": "DS"}}}
              ]
            },
            {
              "width": 140, "height": 108,
              "title": {"text": "E", "orient": "left", "anchor": "end", "angle": 0, "fontSize": 18, "baseline": "top", "align": "right", "offset": 2},
              "layer": [
                {"data": {"name": "esc"}, "mark": {"type": "point", "filled": true, "size": 14, "opacity": 1},
                 "encoding": {
                   "x": {"field": "x", "type": "quantitative", "scale": {"domain": [-5, 10], "nice": false}, "axis": {"values": [-5, 0, 5, 10], "title": "Isoform expression log2 fold change", "titleFontSize": 9.8, "labelFontSize": 12, "tickSize": 4, "titlePadding": 1}},
                   "y": {"field": "y", "type": "quantitative", "scale": {"domain": [0, 20], "nice": false}, "axis": {"values": [0, 5, 10, 15, 20], "title": ["gene specific isoform switching", "-log10 Q-Value"], "titleFontSize": 10, "labelFontSize": 12, "tickSize": 4, "titlePadding": 2, "titleLineHeight": 11}},
                   "color": {"field": "k", "type": "nominal", "scale": {"domain": ["BIN1", "CLTB", "other"], "range": ["#2b9be0", "#f0582b", "#111111"]},
                     "legend": {"values": ["BIN1", "CLTB"], "orient": "none", "legendX": 76, "legendY": -10, "title": null, "labelExpr": "datum.value=='BIN1'?'BIN1 isoforms':'CLTB isoform'", "labelFontSize": 10, "symbolSize": 25, "rowPadding": 1, "labelOffset": 3}}
                 }},
                {"data": {"values": [{}]}, "mark": {"type": "rule", "color": "#444", "strokeWidth": 1},
                 "encoding": {"x": {"datum": -2.2}, "x2": {"datum": 2.7}, "y": {"datum": 16}}},
                {"data": {"values": [{}]}, "mark": {"type": "point", "shape": "triangle-left", "filled": true, "size": 18, "color": "#444", "opacity": 1},
                 "encoding": {"x": {"datum": -2.2}, "y": {"datum": 16}}},
                {"data": {"values": [{}]}, "mark": {"type": "point", "shape": "triangle-right", "filled": true, "size": 18, "color": "#444", "opacity": 1},
                 "encoding": {"x": {"datum": 2.7}, "y": {"datum": 16}}},
                {"data": {"values": [{}]}, "mark": {"type": "text", "fontSize": 13.5, "align": "right"},
                 "encoding": {"x": {"datum": -2.5}, "y": {"datum": 16}, "text": {"value": "Ex"}}},
                {"data": {"values": [{}]}, "mark": {"type": "text", "fontSize": 13.5, "align": "left"},
                 "encoding": {"x": {"datum": 3.2}, "y": {"datum": 16}, "text": {"value": "Oli"}}}
              ]
            }
          ],
          "spacing": 4,
          "resolve": {"scale": {"color": "independent"}, "legend": {"color": "independent"}}
        }
      ],
      "columns": 1,
      "spacing": 0,
      "resolve": {"scale": {"color": "independent"}, "legend": {"color": "independent"}}
    }
  ],
  "columns": 2,
  "spacing": 0,
  "resolve": {"scale": {"color": "independent"}, "legend": {"color": "independent"}}
},
{
  "hconcat": [
    {
      "concat": [
        {
          "width": 88, "height": 126,
          "title": {"text": "CLTB", "anchor": "middle", "fontStyle": "italic", "fontSize": 15, "offset": 2},
          "data": {"name": "fbar"},
          "mark": {"type": "bar"},
          "encoding": {
            "x": {"field": "c", "type": "nominal", "sort": ["Ex", "In", "Oli"], "scale": {"paddingInner": 0.35, "paddingOuter": 0.2}, "axis": {"title": null, "labelAngle": -45, "labelFontSize": 13.5, "tickSize": 4, "labelPadding": 2}},
            "y": {"field": "v", "type": "quantitative", "stack": "zero", "scale": {"domain": [0, 1], "nice": false}, "axis": {"values": [0.5], "labels": false, "tickSize": 5, "title": "Fraction of FSM reads", "titleFontSize": 12, "titlePadding": 14}},
            "color": {"field": "t", "type": "nominal", "scale": {"domain": ["t1", "t2", "t3", "t4"], "range": ["#3a9ad9", "#7254a4", "#ed1e79", "#f26522"]}, "legend": null},
            "order": {"field": "t", "sort": "ascending"}
          }
        },
        {
          "width": 91, "height": 32,
          "layer": [
            {"data": {"name": "fsp"}, "mark": {"type": "rule", "color": "#2e2a7a", "strokeWidth": 1},
             "encoding": {"x": {"field": "s", "type": "quantitative", "scale": {"domain": [37, 128], "nice": false, "zero": false}, "axis": null}, "x2": {"field": "e"},
                          "y": {"field": "tx", "type": "nominal", "scale": {"domain": ["t1", "t2", "t3", "t4"], "paddingInner": 0.3, "paddingOuter": 0.1}, "axis": null}}},
            {"data": {"name": "fex"}, "mark": {"type": "bar"},
             "encoding": {"x": {"field": "s", "type": "quantitative"}, "x2": {"field": "e"}, "y": {"field": "tx", "type": "nominal"},
                          "color": {"field": "tx", "type": "nominal", "scale": {"domain": ["t1", "t2", "t3", "t4"], "range": ["#3a9ad9", "#7254a4", "#ed1e79", "#f26522"]}, "legend": null}}}
          ]
        }
      ],
      "columns": 1,
      "spacing": 2,
      "title": {"text": "F", "anchor": "start", "fontSize": 18, "offset": -17},
      "resolve": {"scale": {"color": "independent"}, "legend": {"color": "independent"}}
    },
    {
      "concat": [
        {
          "width": 180, "height": 126,
          "title": {"text": "SPP1", "anchor": "middle", "fontStyle": "italic", "fontSize": 15, "offset": 2},
          "data": {"name": "gbar"},
          "mark": {"type": "bar"},
          "encoding": {
            "x": {"field": "c", "type": "nominal", "sort": ["Ex", "In", "Ast", "Oli", "OPC", "Mic", "Per", "End"], "scale": {"paddingInner": 0.33, "paddingOuter": 0.15}, "axis": {"title": null, "labelAngle": -45, "labelFontSize": 13.5, "tickSize": 4, "labelPadding": 2}},
            "y": {"field": "v", "type": "quantitative", "stack": "zero", "scale": {"domain": [0, 1], "nice": false}, "axis": {"values": [0.5], "labels": false, "tickSize": 5, "title": "G", "titleAngle": 0, "titleFontSize": 18, "titleAlign": "right", "titleBaseline": "top", "titleX": -8, "titleY": -12}},
            "color": {"field": "t", "type": "nominal", "scale": {"domain": ["t1", "t2", "t3", "t4", "t5"], "range": ["#3a9ad9", "#7254a4", "#ed1e79", "#f26522", "#fdb913"]}, "legend": null},
            "order": {"field": "t", "sort": "ascending"}
          }
        },
        {
          "width": 180, "height": 42,
          "layer": [
            {"data": {"name": "gsp"}, "mark": {"type": "rule", "color": "#2e2a7a", "strokeWidth": 1},
             "encoding": {"x": {"field": "s", "type": "quantitative", "scale": {"domain": [155, 335], "nice": false, "zero": false}, "axis": null}, "x2": {"field": "e"},
                          "y": {"field": "tx", "type": "nominal", "scale": {"domain": ["t1", "t2", "t3", "t4", "lg"], "paddingInner": 0.35, "paddingOuter": 0.1}, "axis": null}}},
            {"data": {"name": "gex"}, "mark": {"type": "bar"},
             "encoding": {"x": {"field": "s", "type": "quantitative"}, "x2": {"field": "e"}, "y": {"field": "tx", "type": "nominal"},
                          "color": {"field": "tx", "type": "nominal", "scale": {"domain": ["t1", "t2", "t3", "t4", "lg"], "range": ["#3a9ad9", "#7254a4", "#ed1e79", "#f26522", "#fdb913"]}, "legend": null}}},
            {"data": {"name": "gtx"}, "mark": {"type": "text", "align": "left", "fontSize": 12.5},
             "encoding": {"x": {"field": "x", "type": "quantitative"}, "y": {"field": "tx", "type": "nominal"}, "text": {"field": "t"}}}
          ]
        }
      ],
      "columns": 1,
      "spacing": 2,
      "resolve": {"scale": {"color": "independent"}, "legend": {"color": "independent"}}
    },
    {
      "concat": [
        {
          "width": 141, "height": 126,
          "title": {"text": "BIN1", "anchor": "middle", "fontStyle": "italic", "fontSize": 15, "offset": 2},
          "data": {"name": "hbar"},
          "mark": {"type": "bar"},
          "encoding": {
            "x": {"field": "c", "type": "nominal", "sort": ["Ex", "In", "Oli", "Ast", "End", "Mic", "OPC"], "scale": {"paddingInner": 0.33, "paddingOuter": 0.1}, "axis": {"title": null, "labelAngle": -45, "labelFontSize": 13.5, "tickSize": 4, "labelPadding": 2}},
            "y": {"field": "v", "type": "quantitative", "stack": "zero", "scale": {"domain": [0, 1], "nice": false}, "axis": {"values": [0.5], "labels": false, "tickSize": 5, "title": "H", "titleAngle": 0, "titleFontSize": 18, "titleAlign": "right", "titleBaseline": "top", "titleX": -8, "titleY": -12}},
            "color": {"field": "t", "type": "nominal", "scale": {"domain": ["t1", "t2", "t3", "t4", "t5", "t6", "t7", "t8"], "range": ["#7254a4", "#ed1e79", "#f26522", "#fdb913", "#3a9ad9", "#00808a", "#2b2a6e", "#1aa250"]}, "legend": null},
            "order": {"field": "t", "sort": "ascending"}
          }
        },
        {
          "width": 154, "height": 66,
          "layer": [
            {"data": {"name": "hsp"}, "mark": {"type": "rule", "color": "#2e2a7a", "strokeWidth": 1},
             "encoding": {"x": {"field": "s", "type": "quantitative", "scale": {"domain": [361, 515], "nice": false, "zero": false}, "axis": null}, "x2": {"field": "e"},
                          "y": {"field": "tx", "type": "nominal", "scale": {"domain": ["t1", "t2", "t3", "t4", "t5", "t6", "t7", "t8", "t9", "t10"], "paddingInner": 0.3, "paddingOuter": 0.1}, "axis": null}}},
            {"data": {"name": "hblk"}, "mark": {"type": "bar"},
             "encoding": {"x": {"field": "s", "type": "quantitative"}, "x2": {"field": "e"}, "y": {"field": "tx", "type": "nominal"},
                          "color": {"field": "tx", "type": "nominal", "scale": {"domain": ["t1", "t2", "t3", "t4", "t5", "t6", "t7", "t8", "t9", "t10"], "range": ["#3a9ad9", "#7254a4", "#f26522", "#fdb913", "#00808a", "#1a9850", "#86cfa0", "#ed1e79", "#2b2a6e", "#c0392b"]}, "legend": null}}},
            {"data": {"name": "htk"}, "mark": {"type": "tick", "thickness": 1.3, "size": 6, "opacity": 1},
             "encoding": {"x": {"field": "p", "type": "quantitative"}, "y": {"field": "tx", "type": "nominal"}, "color": {"field": "tx", "type": "nominal", "legend": null}}}
          ]
        }
      ],
      "columns": 1,
      "spacing": 2,
      "resolve": {"scale": {"color": "independent"}, "legend": {"color": "independent"}}
    },
    {
      "concat": [
        {
          "width": 215, "height": 126,
          "title": {"text": "APP", "anchor": "middle", "fontStyle": "italic", "fontSize": 15, "offset": 2},
          "data": {"name": "ibar"},
          "mark": {"type": "bar"},
          "encoding": {
            "x": {"field": "c", "type": "nominal", "sort": ["Ast", "Ex", "In", "Mic", "Oli", "OPC"], "scale": {"paddingInner": 0.38, "paddingOuter": 0.2}, "axis": {"title": null, "labelAngle": -45, "labelFontSize": 13.5, "tickSize": 4, "labelPadding": 2}},
            "y": {"field": "v", "type": "quantitative", "stack": "zero", "scale": {"domain": [0, 1], "nice": false}, "axis": {"values": [0.5], "labels": false, "tickSize": 5, "title": "I", "titleAngle": 0, "titleFontSize": 18, "titleAlign": "right", "titleBaseline": "top", "titleX": -10, "titleY": -12}},
            "color": {"field": "t", "type": "nominal", "scale": {"domain": ["t1", "t2", "t3"], "range": ["#3a9ad9", "#7254a4", "#ed1e79"]}, "legend": null},
            "order": {"field": "t", "sort": "ascending"}
          }
        },
        {
          "width": 220, "height": 46,
          "layer": [
            {"data": {"name": "isp"}, "mark": {"type": "rule", "color": "#2e2a7a", "strokeWidth": 1},
             "encoding": {"x": {"field": "s", "type": "quantitative", "scale": {"domain": [537, 757], "nice": false, "zero": false}, "axis": null}, "x2": {"field": "e"},
                          "y": {"field": "tx", "type": "nominal", "scale": {"domain": ["APP 695", "APP 751", "APP 770", "APP x"], "paddingInner": 0.3, "paddingOuter": 0.1}, "axis": null}}},
            {"data": {"name": "iblk"}, "mark": {"type": "bar"},
             "encoding": {"x": {"field": "s", "type": "quantitative"}, "x2": {"field": "e"}, "y": {"field": "tx", "type": "nominal"},
                          "color": {"field": "tx", "type": "nominal", "scale": {"domain": ["APP 695", "APP 751", "APP 770", "APP x"], "range": ["#7254a4", "#3a9ad9", "#ed1e79", "#f26522"]}, "legend": null}}},
            {"data": {"name": "itk"}, "mark": {"type": "tick", "thickness": 1.5, "size": 8, "opacity": 1},
             "encoding": {"x": {"field": "p", "type": "quantitative"}, "y": {"field": "tx", "type": "nominal"}, "color": {"field": "tx", "type": "nominal", "legend": null}}},
            {"data": {"name": "ilab"}, "mark": {"type": "text", "align": "right", "fontSize": 10.5},
             "encoding": {"x": {"field": "x", "type": "quantitative"}, "y": {"field": "tx", "type": "nominal"}, "text": {"field": "t"}}}
          ]
        }
      ],
      "columns": 1,
      "spacing": 2,
      "resolve": {"scale": {"color": "independent"}, "legend": {"color": "independent"}}
    }
  ],
  "spacing": 5,
  "resolve": {"scale": {"color": "independent"}, "legend": {"color": "independent"}}
}
]
}
